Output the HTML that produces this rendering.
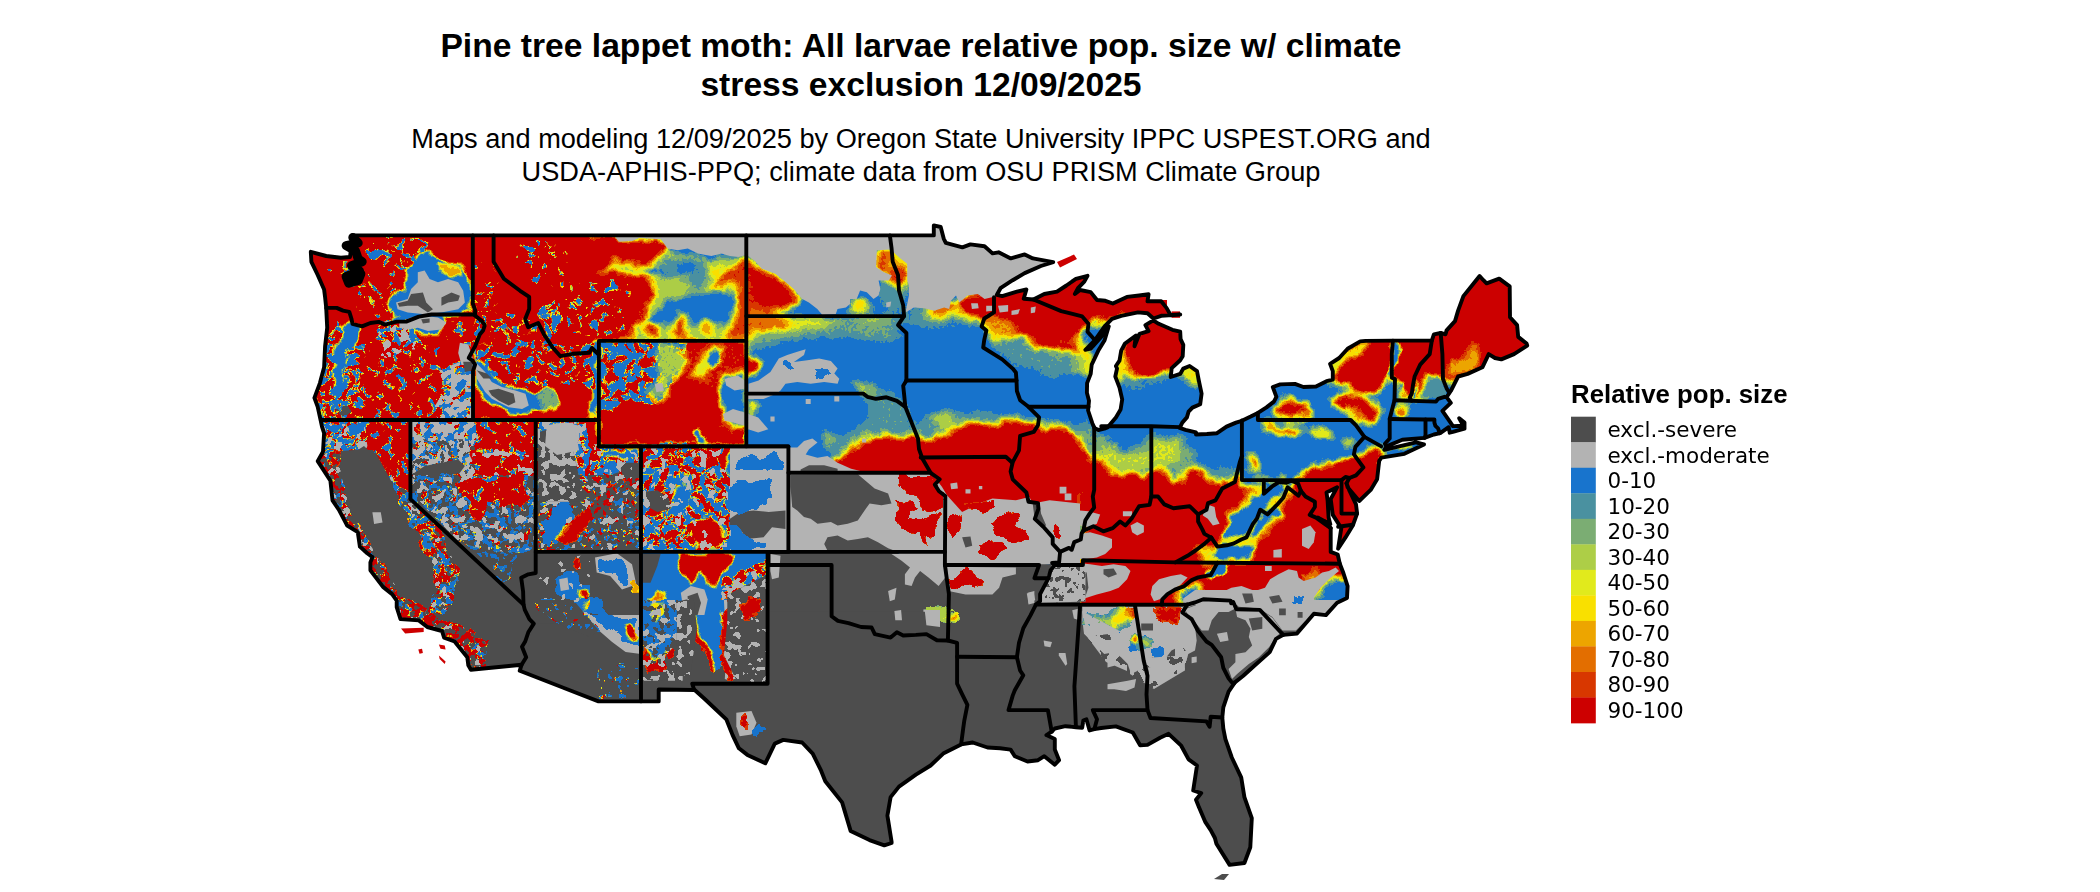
<!DOCTYPE html><html><head><meta charset="utf-8"><title>Pine tree lappet moth</title>
<style>html,body{margin:0;padding:0;background:#fff;overflow:hidden}svg{display:block}text{font-family:"Liberation Sans",sans-serif;fill:#000}.lg text{font-family:"DejaVu Sans",sans-serif;font-size:21.5px}</style></head><body>
<svg width="2100" height="892" viewBox="0 0 2100 892">
<rect width="2100" height="892" fill="#fff"/>
<defs>
<clipPath id="us"><path d="M352.1,235.4 L933.8,235.4 L933.8,225.4 L940.7,227.0 L943.7,238.6 L945.8,242.8 L962.4,247.3 L970.4,244.4 L984.5,246.2 L992.5,253.4 L998.6,252.3 L1010.8,258.4 L1024.7,254.4 L1032.9,258.4 L1053.2,262.1 L1040.9,266.0 L1024.7,273.1 L1012.7,280.2 L1000.5,288.2 L996.9,294.8 L1002.2,296.1 L1016.9,291.6 L1026.4,289.5 L1023.7,298.7 L1033.4,299.5 L1044.3,294.0 L1057.0,291.6 L1066.4,285.5 L1075.9,278.9 L1087.5,275.8 L1084.3,281.6 L1078.0,288.2 L1074.9,294.0 L1080.1,290.0 L1090.7,292.1 L1097.0,300.0 L1105.4,300.8 L1112.8,303.5 L1126.9,296.9 L1139.1,295.5 L1148.6,294.2 L1147.5,301.3 L1161.2,301.3 L1166.5,307.9 L1170.7,315.3 L1180.2,314.5 L1161.2,315.8 L1153.4,318.5 L1147.5,313.2 L1138.0,312.4 L1121.2,315.8 L1112.0,318.9 L1104.6,326.3 L1095.0,340.2 L1085.4,349.8 L1090.7,348.7 L1100.3,338.0 L1108.8,326.3 L1104.6,340.2 L1098.2,350.8 L1091.7,364.6 L1090.7,373.9 L1087.1,383.1 L1086.9,392.8 L1089.0,400.8 L1088.1,410.5 L1092.3,423.2 L1094.4,427.9 L1098.4,430.0 L1104.3,428.7 L1107.5,427.4 L1115.9,417.4 L1120.6,409.5 L1122.2,399.4 L1119.5,387.6 L1115.3,376.5 L1117.0,368.6 L1115.9,366.0 L1119.5,360.7 L1121.2,350.7 L1125.0,343.5 L1135.9,335.6 L1134.5,346.2 L1139.5,333.8 L1148.6,331.1 L1145.4,325.1 L1153.2,320.3 L1158.7,323.8 L1172.4,329.8 L1180.2,331.7 L1180.6,339.1 L1183.3,344.9 L1182.7,356.2 L1180.2,360.2 L1171.7,368.1 L1170.7,377.0 L1180.2,373.9 L1183.3,368.6 L1189.6,366.0 L1197.0,371.2 L1199.1,381.8 L1201.6,393.6 L1200.2,404.2 L1192.4,407.6 L1188.6,411.6 L1186.9,417.4 L1182.3,422.6 L1179.7,427.9 L1185.4,429.8 L1196.0,432.4 L1196.0,434.5 L1206.9,434.0 L1217.0,433.2 L1226.5,426.6 L1236.0,422.6 L1241.9,420.8 L1250.7,416.6 L1257.9,412.9 L1266.5,407.4 L1273.9,401.6 L1276.4,396.8 L1272.8,387.0 L1280.2,384.4 L1294.9,383.9 L1303.4,387.0 L1316.0,386.5 L1326.5,381.2 L1332.8,379.7 L1332.8,371.2 L1330.1,363.8 L1339.2,358.0 L1347.6,348.8 L1360.2,341.4 L1365.5,340.9 L1392.9,340.6 L1431.8,340.6 L1433.9,334.3 L1440.7,333.0 L1445.5,334.3 L1446.6,330.4 L1455.0,321.1 L1458.1,310.6 L1463.4,296.1 L1479.6,276.0 L1483.4,280.2 L1486.6,283.4 L1499.2,278.7 L1509.7,286.3 L1510.0,317.2 L1517.1,325.1 L1518.2,336.9 L1526.6,343.5 L1527.2,345.6 L1514.0,354.1 L1501.3,359.4 L1495.0,358.0 L1488.7,354.1 L1482.4,367.3 L1467.6,373.9 L1458.1,376.5 L1450.8,391.0 L1446.6,397.1 L1450.8,402.9 L1442.4,410.8 L1449.7,421.3 L1452.9,426.1 L1463.4,425.8 L1459.2,418.2 L1464.5,422.6 L1464.5,428.7 L1452.9,431.9 L1449.7,432.7 L1448.7,427.1 L1440.2,433.2 L1433.9,434.5 L1424.5,437.9 L1402.3,439.8 L1386.5,446.4 L1384.4,449.8 L1416.0,442.4 L1424.0,444.5 L1404.4,453.8 L1381.3,457.7 L1379.2,460.9 L1377.1,479.3 L1370.7,489.9 L1359.2,501.0 L1347.6,487.3 L1346.5,483.3 L1349.7,491.2 L1356.0,504.4 L1357.1,513.6 L1352.8,525.5 L1345.5,537.4 L1338.1,548.7 L1341.3,528.1 L1332.8,514.9 L1330.7,499.1 L1337.1,487.3 L1326.5,492.5 L1327.6,500.4 L1328.6,517.6 L1330.3,524.2 L1318.1,517.6 L1330.7,528.1 L1330.7,536.0 L1330.7,551.9 L1337.7,554.5 L1339.8,563.7 L1343.4,573.0 L1347.6,586.1 L1347.0,598.0 L1337.1,602.8 L1325.9,615.1 L1313.9,613.8 L1297.0,633.6 L1283.3,634.9 L1276.0,638.9 L1269.7,652.1 L1254.9,665.3 L1243.3,675.8 L1234.9,682.4 L1228.6,691.6 L1223.3,707.4 L1222.3,717.5 L1223.3,728.5 L1225.4,739.1 L1231.8,757.5 L1241.2,777.3 L1244.4,797.1 L1251.8,818.2 L1250.3,847.2 L1244.4,863.0 L1229.6,864.9 L1216.4,843.8 L1214.9,838.0 L1210.7,830.1 L1205.4,822.2 L1199.1,807.6 L1196.0,799.7 L1201.2,793.1 L1193.2,790.5 L1197.0,765.5 L1188.6,759.4 L1181.2,745.7 L1168.6,733.8 L1160.1,737.8 L1147.5,744.9 L1140.1,745.2 L1132.8,732.5 L1115.9,726.4 L1101.2,728.0 L1094.4,729.1 L1089.6,730.4 L1086.4,719.3 L1083.3,720.6 L1082.2,727.7 L1075.9,727.2 L1065.4,726.2 L1054.8,728.5 L1051.7,731.7 L1046.4,735.1 L1054.8,739.1 L1054.8,749.6 L1059.1,760.2 L1054.8,764.7 L1044.3,756.2 L1038.0,760.2 L1027.5,761.5 L1014.8,756.2 L1010.6,749.6 L1000.1,748.3 L987.5,747.5 L972.7,742.5 L961.1,744.4 L943.2,753.6 L930.6,765.5 L915.9,774.7 L899.0,786.6 L890.6,797.1 L887.4,815.6 L891.6,841.9 L891.6,843.0 L884.3,845.4 L869.5,840.1 L850.6,830.9 L842.1,802.4 L825.3,781.3 L821.1,770.7 L812.7,753.6 L802.1,742.5 L783.2,739.9 L774.8,743.6 L765.3,763.3 L747.4,754.9 L738.9,748.3 L732.6,735.1 L726.3,719.3 L705.3,699.5 L694.7,690.0 L658.7,689.5 L658.7,701.4 L598.5,701.4 L519.7,670.8 L521.6,664.7 L470.9,669.7 L468.3,665.3 L467.3,657.3 L454.6,641.5 L444.1,637.6 L442.0,631.0 L427.3,627.0 L418.8,620.4 L400.5,619.1 L396.7,607.2 L396.7,600.6 L392.1,594.1 L383.0,586.9 L370.4,570.3 L370.4,562.4 L372.5,557.1 L367.2,553.2 L359.9,546.6 L357.8,532.1 L347.2,525.5 L338.8,509.7 L332.5,500.4 L330.4,480.7 L317.7,461.1 L323.0,451.7 L324.1,433.2 L322.0,426.6 L317.7,406.8 L314.4,397.9 L319.9,383.1 L324.1,367.3 L325.1,346.2 L327.2,327.7 L326.2,307.9 L325.1,297.4 L324.1,289.5 L317.7,275.0 L311.4,261.8 L310.8,251.8 L326.2,256.0 L340.9,257.8 L350.0,257.0 L351.4,246.0Z"/></clipPath>
<filter id="bE" filterUnits="userSpaceOnUse" x="280" y="200" width="1280" height="692" color-interpolation-filters="sRGB"><feGaussianBlur stdDeviation="3.60"/></filter>
<filter id="bEE" filterUnits="userSpaceOnUse" x="280" y="200" width="1280" height="692" color-interpolation-filters="sRGB"><feGaussianBlur stdDeviation="6.50"/></filter>
<filter id="bM" filterUnits="userSpaceOnUse" x="280" y="200" width="1280" height="692" color-interpolation-filters="sRGB"><feGaussianBlur stdDeviation="3.20"/></filter>
<filter id="bW" filterUnits="userSpaceOnUse" x="280" y="200" width="1280" height="692" color-interpolation-filters="sRGB"><feGaussianBlur stdDeviation="1.60"/></filter>
<filter id="bX" filterUnits="userSpaceOnUse" x="280" y="200" width="1280" height="692" color-interpolation-filters="sRGB"><feGaussianBlur stdDeviation="0.60"/></filter>
<filter id="bN1" filterUnits="userSpaceOnUse" x="280" y="200" width="1280" height="692" color-interpolation-filters="sRGB"><feTurbulence type="fractalNoise" baseFrequency="0.12" numOctaves="3" seed="7"/><feColorMatrix type="matrix" values="12 0 0 0 -7.9  12 0 0 0 -7.9  12 0 0 0 -7.9  0 0 0 0 1"/><feComposite operator="in" in2="SourceAlpha"/></filter>
<filter id="bN2" filterUnits="userSpaceOnUse" x="280" y="200" width="1280" height="692" color-interpolation-filters="sRGB"><feTurbulence type="fractalNoise" baseFrequency="0.12" numOctaves="3" seed="7"/><feColorMatrix type="matrix" values="12 0 0 0 -7.18  12 0 0 0 -7.18  12 0 0 0 -7.18  0 0 0 0 1"/><feComposite operator="in" in2="SourceAlpha"/></filter>
<filter id="bN3" filterUnits="userSpaceOnUse" x="280" y="200" width="1280" height="692" color-interpolation-filters="sRGB"><feTurbulence type="fractalNoise" baseFrequency="0.12" numOctaves="3" seed="7"/><feColorMatrix type="matrix" values="12 0 0 0 -6.58  12 0 0 0 -6.58  12 0 0 0 -6.58  0 0 0 0 1"/><feComposite operator="in" in2="SourceAlpha"/></filter>
<filter id="bN4" filterUnits="userSpaceOnUse" x="280" y="200" width="1280" height="692" color-interpolation-filters="sRGB"><feTurbulence type="fractalNoise" baseFrequency="0.12" numOctaves="3" seed="7"/><feColorMatrix type="matrix" values="12 0 0 0 -6.04  12 0 0 0 -6.04  12 0 0 0 -6.04  0 0 0 0 1"/><feComposite operator="in" in2="SourceAlpha"/></filter>
<filter id="bN5" filterUnits="userSpaceOnUse" x="280" y="200" width="1280" height="692" color-interpolation-filters="sRGB"><feTurbulence type="fractalNoise" baseFrequency="0.12" numOctaves="3" seed="7"/><feColorMatrix type="matrix" values="12 0 0 0 -5.5  12 0 0 0 -5.5  12 0 0 0 -5.5  0 0 0 0 1"/><feComposite operator="in" in2="SourceAlpha"/></filter>
<filter id="bN6" filterUnits="userSpaceOnUse" x="280" y="200" width="1280" height="692" color-interpolation-filters="sRGB"><feTurbulence type="fractalNoise" baseFrequency="0.12" numOctaves="3" seed="7"/><feColorMatrix type="matrix" values="12 0 0 0 -4.96  12 0 0 0 -4.96  12 0 0 0 -4.96  0 0 0 0 1"/><feComposite operator="in" in2="SourceAlpha"/></filter>
<filter id="bN7" filterUnits="userSpaceOnUse" x="280" y="200" width="1280" height="692" color-interpolation-filters="sRGB"><feTurbulence type="fractalNoise" baseFrequency="0.12" numOctaves="3" seed="7"/><feColorMatrix type="matrix" values="12 0 0 0 -4.42  12 0 0 0 -4.42  12 0 0 0 -4.42  0 0 0 0 1"/><feComposite operator="in" in2="SourceAlpha"/></filter>
<filter id="bN8" filterUnits="userSpaceOnUse" x="280" y="200" width="1280" height="692" color-interpolation-filters="sRGB"><feTurbulence type="fractalNoise" baseFrequency="0.12" numOctaves="3" seed="7"/><feColorMatrix type="matrix" values="12 0 0 0 -3.82  12 0 0 0 -3.82  12 0 0 0 -3.82  0 0 0 0 1"/><feComposite operator="in" in2="SourceAlpha"/></filter>
<filter id="bN9" filterUnits="userSpaceOnUse" x="280" y="200" width="1280" height="692" color-interpolation-filters="sRGB"><feTurbulence type="fractalNoise" baseFrequency="0.12" numOctaves="3" seed="7"/><feColorMatrix type="matrix" values="12 0 0 0 -3.1  12 0 0 0 -3.1  12 0 0 0 -3.1  0 0 0 0 1"/><feComposite operator="in" in2="SourceAlpha"/></filter>
<filter id="sS1a" filterUnits="userSpaceOnUse" x="280" y="200" width="1280" height="692" color-interpolation-filters="sRGB"><feTurbulence type="fractalNoise" baseFrequency="0.12" numOctaves="2" seed="11"/><feColorMatrix type="matrix" values="0 0 0 0 0  0 0 0 0 0  0 0 0 0 0  0 12 0 0 -7.9"/><feComponentTransfer><feFuncA type="discrete" tableValues="0 1"/></feComponentTransfer><feComposite operator="in" in="SourceGraphic"/></filter>
<filter id="sS1b" filterUnits="userSpaceOnUse" x="280" y="200" width="1280" height="692" color-interpolation-filters="sRGB"><feTurbulence type="fractalNoise" baseFrequency="0.17" numOctaves="2" seed="23"/><feColorMatrix type="matrix" values="0 0 0 0 0  0 0 0 0 0  0 0 0 0 0  0 12 0 0 -7.9"/><feComponentTransfer><feFuncA type="discrete" tableValues="0 1"/></feComponentTransfer><feComposite operator="in" in="SourceGraphic"/></filter>
<filter id="sS2a" filterUnits="userSpaceOnUse" x="280" y="200" width="1280" height="692" color-interpolation-filters="sRGB"><feTurbulence type="fractalNoise" baseFrequency="0.12" numOctaves="2" seed="11"/><feColorMatrix type="matrix" values="0 0 0 0 0  0 0 0 0 0  0 0 0 0 0  0 12 0 0 -7.18"/><feComponentTransfer><feFuncA type="discrete" tableValues="0 1"/></feComponentTransfer><feComposite operator="in" in="SourceGraphic"/></filter>
<filter id="sS2b" filterUnits="userSpaceOnUse" x="280" y="200" width="1280" height="692" color-interpolation-filters="sRGB"><feTurbulence type="fractalNoise" baseFrequency="0.17" numOctaves="2" seed="23"/><feColorMatrix type="matrix" values="0 0 0 0 0  0 0 0 0 0  0 0 0 0 0  0 12 0 0 -7.18"/><feComponentTransfer><feFuncA type="discrete" tableValues="0 1"/></feComponentTransfer><feComposite operator="in" in="SourceGraphic"/></filter>
<filter id="sS3a" filterUnits="userSpaceOnUse" x="280" y="200" width="1280" height="692" color-interpolation-filters="sRGB"><feTurbulence type="fractalNoise" baseFrequency="0.12" numOctaves="2" seed="11"/><feColorMatrix type="matrix" values="0 0 0 0 0  0 0 0 0 0  0 0 0 0 0  0 12 0 0 -6.58"/><feComponentTransfer><feFuncA type="discrete" tableValues="0 1"/></feComponentTransfer><feComposite operator="in" in="SourceGraphic"/></filter>
<filter id="sS3b" filterUnits="userSpaceOnUse" x="280" y="200" width="1280" height="692" color-interpolation-filters="sRGB"><feTurbulence type="fractalNoise" baseFrequency="0.17" numOctaves="2" seed="23"/><feColorMatrix type="matrix" values="0 0 0 0 0  0 0 0 0 0  0 0 0 0 0  0 12 0 0 -6.58"/><feComponentTransfer><feFuncA type="discrete" tableValues="0 1"/></feComponentTransfer><feComposite operator="in" in="SourceGraphic"/></filter>
<filter id="sS4a" filterUnits="userSpaceOnUse" x="280" y="200" width="1280" height="692" color-interpolation-filters="sRGB"><feTurbulence type="fractalNoise" baseFrequency="0.12" numOctaves="2" seed="11"/><feColorMatrix type="matrix" values="0 0 0 0 0  0 0 0 0 0  0 0 0 0 0  0 12 0 0 -6.04"/><feComponentTransfer><feFuncA type="discrete" tableValues="0 1"/></feComponentTransfer><feComposite operator="in" in="SourceGraphic"/></filter>
<filter id="sS4b" filterUnits="userSpaceOnUse" x="280" y="200" width="1280" height="692" color-interpolation-filters="sRGB"><feTurbulence type="fractalNoise" baseFrequency="0.17" numOctaves="2" seed="23"/><feColorMatrix type="matrix" values="0 0 0 0 0  0 0 0 0 0  0 0 0 0 0  0 12 0 0 -6.04"/><feComponentTransfer><feFuncA type="discrete" tableValues="0 1"/></feComponentTransfer><feComposite operator="in" in="SourceGraphic"/></filter>
<filter id="sS5a" filterUnits="userSpaceOnUse" x="280" y="200" width="1280" height="692" color-interpolation-filters="sRGB"><feTurbulence type="fractalNoise" baseFrequency="0.12" numOctaves="2" seed="11"/><feColorMatrix type="matrix" values="0 0 0 0 0  0 0 0 0 0  0 0 0 0 0  0 12 0 0 -5.5"/><feComponentTransfer><feFuncA type="discrete" tableValues="0 1"/></feComponentTransfer><feComposite operator="in" in="SourceGraphic"/></filter>
<filter id="sS5b" filterUnits="userSpaceOnUse" x="280" y="200" width="1280" height="692" color-interpolation-filters="sRGB"><feTurbulence type="fractalNoise" baseFrequency="0.17" numOctaves="2" seed="23"/><feColorMatrix type="matrix" values="0 0 0 0 0  0 0 0 0 0  0 0 0 0 0  0 12 0 0 -5.5"/><feComponentTransfer><feFuncA type="discrete" tableValues="0 1"/></feComponentTransfer><feComposite operator="in" in="SourceGraphic"/></filter>
<filter id="sS6a" filterUnits="userSpaceOnUse" x="280" y="200" width="1280" height="692" color-interpolation-filters="sRGB"><feTurbulence type="fractalNoise" baseFrequency="0.12" numOctaves="2" seed="11"/><feColorMatrix type="matrix" values="0 0 0 0 0  0 0 0 0 0  0 0 0 0 0  0 12 0 0 -4.96"/><feComponentTransfer><feFuncA type="discrete" tableValues="0 1"/></feComponentTransfer><feComposite operator="in" in="SourceGraphic"/></filter>
<filter id="sS6b" filterUnits="userSpaceOnUse" x="280" y="200" width="1280" height="692" color-interpolation-filters="sRGB"><feTurbulence type="fractalNoise" baseFrequency="0.17" numOctaves="2" seed="23"/><feColorMatrix type="matrix" values="0 0 0 0 0  0 0 0 0 0  0 0 0 0 0  0 12 0 0 -4.96"/><feComponentTransfer><feFuncA type="discrete" tableValues="0 1"/></feComponentTransfer><feComposite operator="in" in="SourceGraphic"/></filter>
<filter id="sS7a" filterUnits="userSpaceOnUse" x="280" y="200" width="1280" height="692" color-interpolation-filters="sRGB"><feTurbulence type="fractalNoise" baseFrequency="0.12" numOctaves="2" seed="11"/><feColorMatrix type="matrix" values="0 0 0 0 0  0 0 0 0 0  0 0 0 0 0  0 12 0 0 -4.42"/><feComponentTransfer><feFuncA type="discrete" tableValues="0 1"/></feComponentTransfer><feComposite operator="in" in="SourceGraphic"/></filter>
<filter id="sS7b" filterUnits="userSpaceOnUse" x="280" y="200" width="1280" height="692" color-interpolation-filters="sRGB"><feTurbulence type="fractalNoise" baseFrequency="0.17" numOctaves="2" seed="23"/><feColorMatrix type="matrix" values="0 0 0 0 0  0 0 0 0 0  0 0 0 0 0  0 12 0 0 -4.42"/><feComponentTransfer><feFuncA type="discrete" tableValues="0 1"/></feComponentTransfer><feComposite operator="in" in="SourceGraphic"/></filter>
<filter id="sS8a" filterUnits="userSpaceOnUse" x="280" y="200" width="1280" height="692" color-interpolation-filters="sRGB"><feTurbulence type="fractalNoise" baseFrequency="0.12" numOctaves="2" seed="11"/><feColorMatrix type="matrix" values="0 0 0 0 0  0 0 0 0 0  0 0 0 0 0  0 12 0 0 -3.82"/><feComponentTransfer><feFuncA type="discrete" tableValues="0 1"/></feComponentTransfer><feComposite operator="in" in="SourceGraphic"/></filter>
<filter id="sS8b" filterUnits="userSpaceOnUse" x="280" y="200" width="1280" height="692" color-interpolation-filters="sRGB"><feTurbulence type="fractalNoise" baseFrequency="0.17" numOctaves="2" seed="23"/><feColorMatrix type="matrix" values="0 0 0 0 0  0 0 0 0 0  0 0 0 0 0  0 12 0 0 -3.82"/><feComponentTransfer><feFuncA type="discrete" tableValues="0 1"/></feComponentTransfer><feComposite operator="in" in="SourceGraphic"/></filter>
<filter id="sS9a" filterUnits="userSpaceOnUse" x="280" y="200" width="1280" height="692" color-interpolation-filters="sRGB"><feTurbulence type="fractalNoise" baseFrequency="0.12" numOctaves="2" seed="11"/><feColorMatrix type="matrix" values="0 0 0 0 0  0 0 0 0 0  0 0 0 0 0  0 12 0 0 -3.1"/><feComponentTransfer><feFuncA type="discrete" tableValues="0 1"/></feComponentTransfer><feComposite operator="in" in="SourceGraphic"/></filter>
<filter id="sS9b" filterUnits="userSpaceOnUse" x="280" y="200" width="1280" height="692" color-interpolation-filters="sRGB"><feTurbulence type="fractalNoise" baseFrequency="0.17" numOctaves="2" seed="23"/><feColorMatrix type="matrix" values="0 0 0 0 0  0 0 0 0 0  0 0 0 0 0  0 12 0 0 -3.1"/><feComponentTransfer><feFuncA type="discrete" tableValues="0 1"/></feComponentTransfer><feComposite operator="in" in="SourceGraphic"/></filter>
<filter id="cz" filterUnits="userSpaceOnUse" x="280" y="200" width="1280" height="692" color-interpolation-filters="sRGB"><feTurbulence type="fractalNoise" baseFrequency="0.05" numOctaves="3" seed="5" result="n"/><feDisplacementMap in="SourceGraphic" in2="n" scale="15" xChannelSelector="R" yChannelSelector="G" result="d"/><feTurbulence type="fractalNoise" baseFrequency="0.35" numOctaves="1" seed="9" result="m0"/><feColorMatrix in="m0" type="matrix" values="1 0 0 0 0  1 0 0 0 0  1 0 0 0 0  0 0 0 0 1" result="m"/><feComposite in="d" in2="m" operator="arithmetic" k1="0" k2="1" k3="0.16" k4="-0.08"/><feComponentTransfer><feFuncR type="discrete" tableValues="0.0941 0.2902 0.4824 0.6784 0.8824 0.9765 0.9294 0.8902 0.8471 0.8039"/><feFuncG type="discrete" tableValues="0.4549 0.5686 0.6784 0.8078 0.9176 0.8784 0.6471 0.4314 0.2157 0.0000"/><feFuncB type="discrete" tableValues="0.8039 0.6275 0.4510 0.2784 0.1098 0.0000 0.0000 0.0000 0.0000 0.0000"/><feFuncA type="discrete" tableValues="0 1"/></feComponentTransfer></filter>
</defs>
<text x="921" y="57.1" text-anchor="middle" font-size="33.63" font-weight="bold">Pine tree lappet moth: All larvae relative pop. size w/ climate</text>
<text x="921" y="96.1" text-anchor="middle" font-size="33.63" font-weight="bold">stress exclusion 12/09/2025</text>
<text x="921" y="148" text-anchor="middle" font-size="27.18">Maps and modeling 12/09/2025 by Oregon State University IPPC USPEST.ORG and</text>
<text x="921" y="180.5" text-anchor="middle" font-size="27.18">USDA-APHIS-PPQ; climate data from OSU PRISM Climate Group</text>
<g clip-path="url(#us)">
<rect x="300" y="215" width="1240" height="677" fill="#4D4D4D"/>
<g filter="url(#cz)">
<rect x="280" y="200" width="1280" height="692" fill="#000"/>
<g filter="url(#bM)">
<polygon fill="#595959" points="660.9,250.2 677.7,252.8 697.9,255.3 711.4,257.8 728.2,257.0 745.0,256.1 745.0,341.0 634.0,341.0 634.0,329.3 644.1,319.2 649.1,300.7 655.0,292.3 651.7,280.5 639.0,272.1 617.2,272.9 603.7,275.5 592.0,276.3 602.0,270.1 615.5,261.2 627.3,261.2 640.7,265.4 651.7,261.2"/>
<polygon fill="#262626" points="667.6,260.3 687.8,258.6 708.0,261.2 709.7,268.7 706.3,275.5 706.3,290.6 694.6,292.3 687.8,282.2 677.7,275.5 667.6,273.8 654.2,273.8 640.7,270.4 642.4,266.2 654.2,265.4"/>
<polygon fill="#050505" points="642.4,267.0 660.9,266.2 666.0,270.4 657.5,273.8 645.8,272.9"/>
<polygon fill="#050505" points="671.0,263.7 687.8,262.8 697.9,267.0 689.5,273.8 676.0,272.1"/>
<polygon fill="#000000" points="664.3,304.0 677.7,299.0 687.8,297.3 704.6,294.8 716.4,289.8 728.2,292.3 731.6,299.0 729.9,309.1 726.5,319.2 721.5,325.9 711.4,320.9 699.6,320.9 692.9,327.6 687.8,319.2 684.5,310.8 676.0,319.2 667.6,325.9 660.9,324.2 654.2,322.5 647.5,320.9 645.8,315.8 654.2,312.5"/>
<polygon fill="#ffffff" points="560.0,235.1 615.5,235.1 618.9,241.8 632.3,241.0 639.0,238.1 660.9,239.3 666.8,246.9 657.5,254.4 651.7,261.2 640.7,265.4 630.6,261.2 618.9,261.2 610.5,265.4 602.0,270.4 596.2,274.6 603.7,274.1 617.2,272.1 627.3,273.4 639.0,271.3 650.8,278.8 655.0,288.9 653.3,295.6 649.1,300.7 645.8,309.1 644.1,319.2 639.0,325.9 634.0,329.3 634.0,341.0 560.0,341.0"/>
<polygon fill="#ffffff" points="645.8,327.6 654.2,325.1 660.9,329.3 659.2,335.2 650.8,336.8 645.8,333.5"/>
<polygon fill="#e6e6e6" points="677.7,319.2 681.9,312.5 686.1,319.2 687.8,341.0 676.0,341.0"/>
<polygon fill="#bfbfbf" points="701.3,325.9 708.0,322.5 714.7,325.9 713.1,333.5 704.6,334.3"/>
<polygon fill="#b2b2b2" points="711.4,265.4 719.8,263.7 721.5,270.4 714.7,273.8"/>
<polygon fill="#e0e0e0" points="745.0,256.1 738.3,262.8 726.5,272.1 711.4,283.9 713.1,288.6 728.2,285.5 738.3,280.5 735.8,292.3 736.6,305.7 734.9,319.2 728.2,332.6 721.5,341.0 745.0,341.0 748.4,339.4 758.5,335.2 778.6,328.4 793.8,321.7 783.7,319.2 770.2,315.8 783.7,312.5 797.1,305.7 802.2,299.3 793.8,289.2 783.7,280.8 775.3,274.1 761.8,269.1 755.1,261.2 748.4,256.1"/>
<polygon fill="#ffffff" points="748.4,268.7 761.8,273.8 775.3,280.5 785.4,290.6 793.8,299.0 785.4,305.7 770.2,309.1 758.5,299.0 750.1,292.3"/>
</g>
<g filter="url(#bE)">
<polygon fill="#262626" points="850.0,316.7 905.5,316.7 905.5,325.9 892.0,332.6 900.5,349.5 893.7,346.1 883.6,329.3 866.8,324.2 850.0,325.9"/>
<polygon fill="#262626" points="880.3,285.5 893.7,282.2 907.2,283.9 908.9,295.6 905.5,312.5 880.3,312.5 878.6,299.0"/>
<polygon fill="#999999" points="850.0,300.7 860.1,297.3 868.5,299.0 871.9,305.7 866.8,312.5 850.0,312.5"/>
<polygon fill="#999999" points="881.1,324.2 886.2,318.3 892.9,324.2"/>
<polygon fill="#262626" points="905.5,309.1 924.0,305.7 957.6,309.1 984.6,319.2 984.6,329.3 957.6,325.9 934.1,332.6 905.5,325.9"/>
<polygon fill="#cccccc" points="922.3,308.3 950.9,304.0 957.6,309.1 957.6,316.7 944.2,319.2 930.7,316.7"/>
<polygon fill="#ffffff" points="957.6,297.3 967.7,294.8 977.8,293.1 993.0,292.3 1001.4,288.9 1035.0,258.6 1068.6,250.2 1093.9,250.2 1135.9,275.5 1179.6,292.3 1186.4,319.2 1152.7,319.2 1102.3,319.2 1092.2,325.9 1088.8,330.1 1082.1,336.0 1068.6,342.7 1051.8,346.4 1038.4,346.1 1028.3,341.0 1019.9,334.3 1011.5,325.9 1006.4,319.2 998.0,319.2 993.0,315.8 984.6,319.2 974.5,319.2 964.4,315.8 957.6,309.1"/>
<polygon fill="#b2b2b2" points="981.2,315.8 1011.5,319.2 1018.2,332.6 1011.5,342.7 1001.4,346.1 991.3,342.7 984.6,332.6"/>
<polygon fill="#ffffff" points="1125.8,342.7 1135.9,332.6 1152.7,319.2 1184.7,319.2 1200.0,332.6 1200.0,375.0 1179.6,375.0 1176.3,369.6 1161.1,373.0 1135.9,375.0 1129.2,359.6"/>
</g>
<g filter="url(#bM)">
<polygon fill="#e6e6e6" points="876.9,250.2 890.4,249.4 900.5,258.6 907.2,263.7 907.2,280.5 908.9,285.5 900.5,288.9 888.7,282.2 880.3,282.2 890.4,273.8 883.6,272.1 876.1,267.0"/>
<polygon fill="#8c8c8c" points="883.6,258.6 892.0,257.8 903.8,263.7 903.8,268.7 895.4,267.0 885.3,264.5"/>
</g>
<g filter="url(#bE)">
<polygon fill="#333333" points="747.5,315.9 895.5,315.9 898.8,342.8 861.8,339.5 828.2,336.1 794.6,341.1 760.9,346.2 747.5,347.9"/>
<polygon fill="#737373" points="747.5,317.6 794.6,317.6 828.2,316.6 841.7,319.9 828.2,324.7 794.6,329.4 760.9,334.1 747.5,336.1"/>
<polygon fill="#616161" points="858.5,317.6 882.0,316.6 883.7,323.3 861.8,325.3"/>
<polygon fill="#cccccc" points="747.5,317.6 787.8,317.6 794.6,326.0 767.7,331.0 747.5,333.4"/>
<polygon fill="#2b2b2b" points="847.7,382.0 864.6,380.4 881.4,385.4 898.2,395.5 908.3,403.9 911.6,430.8 898.2,434.2 881.4,430.8 864.6,435.9 854.5,444.3 844.4,454.4 830.9,457.7 824.2,447.6 820.8,434.2 830.9,430.8 847.7,434.2 867.9,420.7 869.6,403.9 857.8,390.5"/>
<polygon fill="#5c5c5c" points="852.8,384.6 864.6,382.9 873.0,388.8 871.3,395.5 861.2,393.8"/>
<polygon fill="#5c5c5c" points="822.5,434.2 829.2,431.7 834.3,437.5 830.9,443.4 824.2,442.6"/>
<polygon fill="#2b2b2b" points="911.6,427.5 928.5,412.3 948.6,407.3 968.8,410.6 982.3,405.6 999.1,410.6 1015.9,414.0 1037.8,414.0 1049.6,419.0 1080.0,420.7 1080.0,434.2 911.6,435.9"/>
<polygon fill="#616161" points="931.8,414.0 945.3,411.5 955.4,417.4 953.7,427.5 940.2,429.1 933.5,422.4"/>
<polygon fill="#ffffff" points="830.9,460.3 844.4,456.0 852.8,447.6 861.2,439.6 873.0,436.2 884.7,434.2 898.2,437.9 908.3,434.2 918.4,435.0 925.1,440.9 931.8,439.6 938.6,434.5 948.6,429.5 958.7,427.5 968.8,420.7 978.9,424.4 989.0,427.5 999.1,422.7 1007.5,419.4 1019.3,421.1 1029.4,424.1 1037.8,423.3 1049.6,430.8 1059.6,428.3 1080.0,434.2 1116.8,447.6 1116.8,490.0 830.9,490.0"/>
</g>
<g filter="url(#bM)">
<polygon fill="#ffffff" points="730.0,343.4 745.1,343.4 746.8,356.0 755.2,356.8 761.1,365.2 759.4,373.6 751.9,377.8 745.1,376.2 740.1,373.6 730.0,372.0"/>
</g>
<g filter="url(#bE)">
<polygon fill="#2b2b2b" points="982.3,340.0 1080.0,340.0 1080.0,373.6 1049.6,378.7 1032.7,368.6 1015.9,365.2 999.1,353.5"/>
<polygon fill="#ffffff" points="1022.6,340.0 1080.0,340.0 1080.0,351.8 1058.0,353.5 1041.1,348.4"/>
<polygon fill="#333333" points="1080.0,419.0 1095.1,427.5 1103.5,440.9 1123.7,447.6 1143.9,440.9 1154.0,434.2 1174.2,431.7 1187.6,437.5 1192.7,451.0 1197.7,464.5 1214.6,469.5 1236.4,464.5 1241.5,474.6 1080.0,474.6"/>
<polygon fill="#666666" points="1095.1,447.6 1113.6,451.0 1133.8,454.4 1147.3,451.0 1154.0,440.9 1167.5,437.5 1180.9,440.9 1184.3,451.0 1177.5,464.5 1164.1,467.8 1152.3,464.5 1130.5,467.8 1095.1,464.5"/>
<polygon fill="#ffffff" points="1080.0,449.3 1095.1,457.7 1103.5,465.3 1113.6,472.9 1123.7,472.9 1133.8,472.9 1143.9,475.4 1152.3,472.0 1160.7,468.7 1167.5,474.6 1174.2,483.0 1184.3,473.7 1194.4,470.3 1204.5,474.6 1214.6,479.6 1224.6,483.0 1236.4,474.6 1241.5,472.9 1241.5,525.0 1080.0,525.0"/>
<polygon fill="#333333" points="1118.7,360.2 1127.1,377.0 1140.5,383.7 1154.0,380.4 1167.5,373.6 1180.9,365.2 1197.7,365.2 1197.7,385.4 1187.6,383.7 1180.9,373.6 1174.2,377.0 1164.1,382.0 1152.3,387.1 1137.2,388.8 1123.7,383.7 1117.0,373.6"/>
<polygon fill="#ffffff" points="1122.0,340.0 1122.0,361.9 1130.5,372.0 1140.5,376.2 1150.6,373.6 1159.0,368.6 1170.8,363.5 1180.9,356.8 1184.3,350.1 1187.6,340.0"/>
<polygon fill="#8c8c8c" points="1184.3,370.3 1194.4,368.6 1197.7,377.0 1194.4,383.7 1186.0,382.0"/>
<polygon fill="#8c8c8c" points="1113.6,356.8 1123.7,358.5 1125.4,373.6 1120.4,383.7 1113.6,382.0"/>
<polygon fill="#8c8c8c" points="1080.0,346.7 1090.1,345.0 1091.8,360.2 1086.7,373.6 1080.0,373.6"/>
</g>
<g filter="url(#bM)">
<polygon fill="#e6e6e6" points="1261.6,424.1 1270.1,422.4 1276.8,427.5 1286.9,424.1 1297.0,425.8 1303.7,430.8 1297.0,434.2 1285.2,432.5 1276.8,434.2 1266.7,430.8"/>
<polygon fill="#b2b2b2" points="1307.1,427.5 1318.8,429.1 1332.3,432.5 1335.6,437.5 1325.6,437.5 1312.1,434.2"/>
<polygon fill="#d9d9d9" points="1246.5,456.0 1254.9,457.7 1260.0,466.1 1258.3,472.9 1251.6,471.2 1246.5,462.8"/>
<polygon fill="#999999" points="1342.4,439.2 1350.8,435.9 1352.5,442.6 1345.7,446.0"/>
<polygon fill="#ffffff" points="1295.3,490.0 1295.3,479.6 1305.4,471.2 1318.8,465.3 1332.3,461.4 1345.7,459.8 1355.8,456.0 1365.9,449.3 1376.0,447.6 1382.7,451.0 1382.7,490.0"/>
<polygon fill="#666666" points="1330.6,343.4 1342.4,340.0 1352.5,340.0 1349.1,350.1 1344.1,360.2 1337.3,370.3 1328.9,365.2"/>
<polygon fill="#ffffff" points="1342.4,340.0 1391.1,340.0 1391.1,365.2 1387.8,373.6 1381.1,387.1 1372.6,392.1 1362.6,390.5 1349.1,383.7 1339.0,378.7 1337.3,370.3 1344.1,360.2 1349.1,350.1"/>
<polygon fill="#f2f2f2" points="1328.9,400.5 1339.0,393.8 1352.5,392.1 1365.9,395.5 1376.0,402.2 1381.1,410.6 1376.0,420.7 1365.9,424.1 1355.8,419.0 1349.1,410.6 1339.0,410.6 1332.3,407.3"/>
<polygon fill="#f2f2f2" points="1273.4,410.6 1281.8,400.5 1291.9,397.2 1297.0,403.9 1305.4,403.9 1312.1,410.6 1305.4,417.4 1290.2,419.0 1278.5,417.4"/>
<polygon fill="#ffffff" points="1392.8,340.0 1430.0,340.0 1430.0,398.9 1414.7,398.9 1409.6,397.2 1399.6,398.0 1396.2,390.5 1394.5,373.6"/>
</g>
<g filter="url(#bW)">
<polygon fill="#000000" points="1394.8,345.0 1399.6,343.4 1401.2,365.2 1399.6,390.5 1396.2,395.5 1394.8,373.6"/>
<polygon fill="#000000" points="1419.7,356.8 1423.1,358.5 1416.4,382.0 1414.7,397.2 1409.6,397.2 1413.0,380.4"/>
</g>
<g filter="url(#bM)">
<polygon fill="#ebebeb" points="1395.4,403.9 1404.6,402.2 1407.1,410.6 1402.9,415.7 1396.2,414.8"/>
</g>
<g filter="url(#bW)">
<polygon fill="#a6a6a6" points="1387.8,451.0 1399.6,449.3 1409.6,447.6 1409.6,450.2 1389.5,454.4"/>
</g>
<g filter="url(#bE)">
<polygon fill="#ffffff" points="1080.0,488.5 1295.3,488.5 1298.6,480.1 1430.0,480.1 1430.0,620.0 1080.0,620.0"/>
</g>
<g filter="url(#bM)">
<polygon fill="#808080" points="1258.3,476.7 1286.9,478.4 1291.9,488.5 1281.8,503.6 1273.4,513.7 1281.8,512.0 1280.1,520.5 1265.0,533.9 1254.9,542.3 1253.2,550.7 1244.8,564.2 1228.0,567.5 1214.6,564.2 1197.7,557.5 1196.0,552.4 1207.8,545.7 1219.6,544.0 1223.0,533.9 1226.3,523.8 1233.1,513.7 1241.5,505.3 1248.2,496.9 1254.9,488.5"/>
</g>
<g filter="url(#bW)">
<polygon fill="#000000" points="1262.5,480.1 1278.5,481.8 1285.2,488.5 1280.1,496.9 1270.1,503.6 1261.6,513.7 1254.9,520.5 1248.2,527.2 1241.5,533.9 1231.4,540.6 1224.6,537.3 1228.0,528.9 1234.7,518.8 1241.5,510.4 1249.9,503.6 1258.3,495.2 1262.5,488.5"/>
<polygon fill="#000000" points="1265.0,512.0 1275.1,508.7 1278.5,513.7 1268.4,523.8 1258.3,533.9 1251.6,537.3 1248.2,533.9 1256.6,523.8"/>
<polygon fill="#000000" points="1214.6,549.0 1224.6,545.7 1241.5,547.4 1251.6,549.0 1246.5,557.5 1231.4,560.8 1217.9,559.1 1211.2,554.1"/>
<polygon fill="#000000" points="1211.2,565.9 1219.6,564.2 1231.4,565.9 1224.6,572.6 1214.6,576.0 1207.8,572.6"/>
</g>
<g filter="url(#bM)">
<polygon fill="#808080" points="1174.2,594.5 1184.3,587.7 1197.7,582.7 1204.5,586.0 1197.7,596.1 1187.6,602.9 1174.2,602.9"/>
</g>
<g filter="url(#bW)">
<polygon fill="#0d0d0d" points="1179.2,594.5 1189.3,588.6 1196.0,589.4 1189.3,597.8 1180.9,600.3"/>
</g>
<g filter="url(#bM)">
<polygon fill="#000000" points="1312.1,601.2 1322.2,587.7 1335.6,579.3 1342.4,577.6 1352.5,587.7 1349.1,602.9 1332.3,614.6 1315.5,616.3"/>
<polygon fill="#999999" points="1303.7,572.6 1315.5,569.2 1320.5,574.3 1312.1,579.3 1305.4,578.5"/>
</g>
<g filter="url(#bE)">
<polygon fill="#ffffff" points="923.4,470.0 1080.0,470.0 1080.0,523.8 923.4,523.8"/>
</g>
<g filter="url(#bM)">
<polygon fill="#ffffff" points="1333.7,266.8 1542.3,266.8 1542.3,381.2 1458.2,381.2 1448.1,384.6 1441.4,377.8 1431.3,376.1 1421.2,384.6 1397.6,384.6 1394.3,374.5 1390.9,377.8 1384.2,381.2 1377.5,389.6 1360.6,391.3 1337.1,384.6 1330.4,381.2 1330.4,374.5"/>
<polygon fill="#666666" points="1330.4,364.4 1340.5,354.3 1357.3,344.2 1370.7,342.5 1364.0,350.9 1350.5,357.6 1340.5,367.7 1335.4,377.8 1330.4,374.5"/>
</g>
<g filter="url(#bW)">
<polygon fill="#000000" points="1390.9,342.5 1399.3,342.5 1397.6,359.3 1394.3,374.5 1390.9,377.8 1389.2,367.7"/>
</g>
<g filter="url(#bM)">
<polygon fill="#9e9e9e" points="1458.2,361.0 1468.3,350.9 1478.4,345.9 1483.4,350.9 1478.4,361.0 1468.3,367.7 1458.2,374.5 1449.8,377.8 1446.4,371.1"/>
<polygon fill="#262626" points="1421.2,384.6 1431.3,376.1 1441.4,377.8 1448.1,384.6 1451.5,394.6 1448.1,400.0 1417.8,400.0"/>
</g>
<g filter="url(#bW)">
<polygon fill="#ffffff" points="300.0,225.0 590.0,225.0 590.0,445.0 300.0,445.0"/>
</g>
<g filter="url(#bN7)">
<polygon fill="#ffffff" points="367.4,238.5 424.6,238.5 427.9,257.0 407.7,270.5 390.9,265.5 377.5,270.5 369.0,257.0"/>
</g>
<g filter="url(#bN8)">
<polygon fill="#ffffff" points="328.7,258.7 347.2,258.7 347.2,272.2 328.7,272.2"/>
<polygon fill="#ffffff" points="353.9,278.9 394.3,270.5 397.6,309.2 380.8,319.3 353.9,309.2"/>
</g>
<g filter="url(#bW)">
<polygon fill="#000000" points="407.7,265.5 417.8,255.4 424.6,248.6 431.3,257.0 441.4,260.4 451.5,263.8 464.9,265.5 468.3,272.2 471.6,285.6 472.5,299.1 468.3,309.2 458.2,314.2 441.4,315.9 424.6,317.6 411.1,315.9 397.6,314.2 390.9,305.8 394.3,295.7 404.4,289.0 407.7,278.9"/>
<polygon fill="#a6a6a6" points="438.0,265.5 451.5,265.5 464.9,268.8 463.2,275.5 448.1,273.9 438.0,272.2"/>
<polygon fill="#000000" points="394.3,315.9 407.7,314.2 441.4,315.9 448.1,322.6 441.4,332.7 424.6,332.7 407.7,332.7 397.6,329.4"/>
<polygon fill="#000000" points="340.5,326.0 348.9,322.6 357.3,326.0 360.6,332.7 353.9,342.8 350.5,352.9 347.2,365.0 337.1,365.0 338.8,349.6 340.5,336.1"/>
</g>
<g filter="url(#bN7)">
<polygon fill="#ffffff" points="323.6,315.9 340.5,315.9 338.8,365.0 323.6,365.0"/>
</g>
<g filter="url(#bN5)">
<polygon fill="#ffffff" points="380.8,322.6 394.3,319.3 407.7,322.6 411.1,332.7 424.6,342.8 417.8,349.6 404.4,349.6 390.9,359.6 380.8,356.3 377.5,339.5"/>
</g>
<g filter="url(#bN8)">
<polygon fill="#ffffff" points="473.3,265.5 498.6,265.5 498.6,322.6 473.3,322.6"/>
</g>
<g filter="url(#bN7)">
<polygon fill="#ffffff" points="475.0,309.2 498.6,309.2 525.5,315.9 545.6,326.0 559.1,349.6 552.4,365.0 475.0,365.0"/>
</g>
<g filter="url(#bW)">
<polygon fill="#000000" points="471.6,347.9 485.1,344.5 488.5,354.6 483.4,365.0 475.0,365.0"/>
</g>
<g filter="url(#bN8)">
<polygon fill="#ffffff" points="518.7,236.9 565.8,236.9 565.8,285.6 538.9,285.6 518.7,265.5"/>
</g>
<g filter="url(#bN5)">
<polygon fill="#ffffff" points="538.9,309.2 552.4,302.5 562.5,309.2 562.5,326.0 552.4,336.1 542.3,332.7"/>
</g>
<g filter="url(#bN8)">
<polygon fill="#ffffff" points="565.8,282.3 626.4,282.3 626.4,332.7 565.8,332.7"/>
<polygon fill="#ffffff" points="448.1,322.6 473.3,322.6 473.3,349.6 448.1,349.6"/>
</g>
<g filter="url(#bW)">
<polygon fill="#ffffff" points="315.2,417.3 597.8,417.3 597.8,445.9 640.0,445.9 640.0,495.0 315.2,495.0"/>
</g>
<g filter="url(#bN5)">
<polygon fill="#ffffff" points="322.0,345.0 360.6,345.0 364.0,378.6 360.6,419.0 320.3,419.0 315.2,395.5"/>
</g>
<g filter="url(#bW)">
<polygon fill="#000000" points="335.4,345.0 348.9,345.0 347.2,365.2 343.8,382.0 337.1,395.5 332.0,392.1 333.7,370.2"/>
</g>
<g filter="url(#bN3)">
<polygon fill="#ffffff" points="439.7,370.2 451.5,365.2 464.9,360.1 472.5,361.8 472.5,419.0 438.0,419.0 433.0,408.9 441.4,395.5 448.1,385.4 441.4,378.6"/>
</g>
<g filter="url(#bN8)">
<polygon fill="#ffffff" points="360.6,345.0 438.0,345.0 438.0,419.0 360.6,419.0"/>
</g>
<g filter="url(#bN7)">
<polygon fill="#ffffff" points="475.0,345.0 592.7,345.0 592.7,387.0 475.0,387.0"/>
</g>
<g filter="url(#bW)">
<polygon fill="#000000" points="475.0,358.5 488.5,368.5 501.9,383.7 525.5,390.4 535.6,392.1 542.3,388.7 552.4,395.5 559.1,400.5 552.4,408.9 538.9,412.3 525.5,412.3 508.6,412.3 495.2,407.2 483.4,398.8 475.0,387.0"/>
<polygon fill="#383838" points="537.2,393.8 545.6,387.0 555.7,393.8 559.1,402.2 549.0,410.6 538.9,408.9"/>
</g>
<g filter="url(#bN4)">
<polygon fill="#ffffff" points="322.0,420.7 364.0,420.7 367.4,445.9 360.6,462.7 357.3,495.0 323.6,495.0"/>
</g>
<g filter="url(#bN8)">
<polygon fill="#ffffff" points="364.0,420.7 407.7,420.7 407.7,495.0 387.5,495.0 374.1,462.7 367.4,445.9"/>
</g>
<g filter="url(#bN3)">
<polygon fill="#ffffff" points="411.1,420.7 475.0,420.7 478.4,439.2 468.3,452.6 475.0,466.1 468.3,495.0 411.1,495.0"/>
</g>
<g filter="url(#bN8)">
<polygon fill="#ffffff" points="473.3,420.7 533.9,420.7 533.9,495.0 468.3,495.0 475.0,466.1 468.3,452.6 478.4,439.2"/>
</g>
<g filter="url(#bN3)">
<polygon fill="#ffffff" points="537.2,420.7 586.0,420.7 586.0,495.0 537.2,495.0"/>
</g>
<g filter="url(#bW)">
<polygon fill="#000000" points="599.5,447.6 640.0,447.6 640.0,459.4 609.6,461.0 599.5,456.0"/>
<polygon fill="#ffffff" points="599.3,340.9 745.6,340.9 745.6,444.3 599.3,444.3"/>
</g>
<g filter="url(#bN4)">
<polygon fill="#ffffff" points="600.1,341.7 684.2,341.7 684.2,358.5 674.1,377.0 669.0,390.5 657.3,402.3 645.5,405.6 632.0,398.9 615.2,407.3 600.1,414.0"/>
</g>
<g filter="url(#bM)">
<polygon fill="#525252" points="655.6,348.5 664.0,343.4 677.5,345.1 684.2,358.5 680.8,372.0 674.1,382.1 664.0,385.5 657.3,377.0 655.6,361.9"/>
<polygon fill="#404040" points="647.2,385.5 657.3,382.1 667.4,385.5 669.0,393.9 660.6,400.6 648.9,398.9"/>
<polygon fill="#ebebeb" points="684.2,341.7 745.6,341.7 745.6,390.5 724.6,390.5 707.7,385.5 694.3,385.5 684.2,377.0"/>
<polygon fill="#525252" points="694.3,373.7 699.3,363.6 707.7,353.5 716.1,346.8 721.2,346.8 717.8,355.2 709.4,363.6 704.4,372.0 699.3,378.7"/>
</g>
<g filter="url(#bW)">
<polygon fill="#000000" points="707.7,353.5 717.8,350.1 721.2,358.5 712.8,365.3"/>
</g>
<g filter="url(#bM)">
<polygon fill="#000000" points="724.6,375.4 745.6,368.6 745.6,429.2 734.6,429.2 724.6,419.1 721.2,402.3 717.8,388.8"/>
<polygon fill="#a6a6a6" points="748.1,400.6 756.5,402.3 758.2,409.0 751.5,414.0 748.1,410.7"/>
</g>
<g filter="url(#bW)">
<polygon fill="#000000" points="696.0,431.7 702.7,430.9 704.4,444.3 697.6,444.3"/>
<polygon fill="#ffffff" points="590.0,444.3 729.9,444.3 729.9,485.0 590.0,485.0"/>
</g>
<g filter="url(#bN6)">
<polygon fill="#ffffff" points="590.0,444.3 721.2,444.3 721.2,485.0 590.0,485.0"/>
</g>
<g filter="url(#bW)">
<polygon fill="#000000" points="600.1,449.4 638.8,447.7 638.8,456.1 615.2,457.8 600.1,456.1"/>
</g>
<g filter="url(#bN4)">
<polygon fill="#ffffff" points="590.0,465.0 640.5,465.0 640.5,550.8 590.0,550.8"/>
</g>
<g filter="url(#bN5)">
<polygon fill="#ffffff" points="642.1,465.0 729.9,465.0 729.9,550.8 642.1,550.8"/>
</g>
<g filter="url(#bW)">
<polygon fill="#ffffff" points="694.3,522.2 704.4,518.8 714.5,522.2 721.2,532.3 724.6,545.7 717.8,550.8 697.6,550.8 694.3,539.0"/>
<polygon fill="#000000" points="670.7,485.2 684.2,481.8 694.3,491.9 690.9,508.7 680.8,515.5 670.7,508.7"/>
<polygon fill="#000000" points="642.1,552.5 766.6,552.5 766.6,615.0 642.1,615.0"/>
<polygon fill="#ffffff" points="679.1,554.1 733.0,554.1 729.6,565.9 721.2,576.0 714.5,586.1 707.7,582.7 701.0,572.6 690.9,582.7 684.2,572.6 679.1,565.9"/>
<polygon fill="#b2b2b2" points="648.9,594.5 660.6,592.8 664.0,604.6 657.3,613.0 648.9,608.0"/>
</g>
<g filter="url(#bN6)">
<polygon fill="#ffffff" points="721.2,582.7 766.6,559.2 766.6,615.0 721.2,615.0"/>
</g>
</g>
<g>
<polygon fill="#B3B3B3" points="615.5,231.7 615.5,237.6 618.9,241.8 632.3,241.0 639.0,238.1 660.9,239.3 667.6,248.5 677.7,250.2 687.8,248.5 697.9,253.6 711.4,256.1 721.5,253.6 729.9,256.1 738.3,257.0 745.0,255.3 748.4,256.1 755.1,261.2 761.8,268.7 775.3,273.8 783.7,280.5 793.8,288.9 802.2,299.0 808.9,302.4 817.3,309.1 822.4,315.0 835.8,314.1 837.5,309.1 845.9,307.4 850.0,304.0 850.0,231.7"/>
<polygon fill="#B3B3B3" points="850.0,231.7 850.0,299.0 856.7,299.0 860.1,290.6 866.8,292.3 873.5,299.0 878.6,295.6 880.3,288.9 878.6,280.5 888.7,280.5 892.0,275.5 883.6,272.1 876.1,267.0 876.9,250.2 890.4,249.4 900.5,258.6 907.2,263.7 907.2,280.5 908.9,285.5 908.9,295.6 905.5,312.5 913.9,307.4 924.0,308.3 934.1,310.8 944.2,307.4 949.2,309.1 950.9,300.7 956.0,295.6 959.3,302.4 967.7,295.6 977.8,294.0 984.6,299.0 993.0,297.0 1018.2,281.3 1035.0,270.7 1047.6,264.5 1060.2,258.6 1060.2,225.0 850.0,225.0"/>
<polygon fill="#B3B3B3" points="971.1,303.2 977.8,303.2 978.7,308.3 971.9,309.1"/>
<polygon fill="#B3B3B3" points="986.2,305.7 993.0,305.7 993.0,310.8 986.2,311.6"/>
<polygon fill="#B3B3B3" points="998.0,305.7 1008.1,304.9 1008.1,311.6 999.7,312.5"/>
<polygon fill="#B3B3B3" points="1011.5,310.8 1019.9,309.1 1018.2,314.1 1011.5,315.0"/>
<polygon fill="#B3B3B3" points="1030.8,307.4 1035.8,306.6 1035.0,312.5 1030.8,313.3"/>
<polygon fill="#B3B3B3" points="886.2,302.4 891.2,301.5 890.4,306.6 886.2,307.4"/>
<polygon fill="#B3B3B3" points="748.5,392.1 748.5,383.7 758.6,380.4 770.4,372.0 778.8,358.5 787.2,355.1 797.3,351.8 805.7,349.3 804.0,355.1 793.9,361.9 807.4,360.2 819.1,358.5 830.9,361.0 837.6,368.6 834.3,373.6 839.3,378.7 837.6,383.7 824.2,382.0 810.7,383.7 797.3,382.0 785.5,383.7 780.5,390.5 778.8,392.1"/>
<polygon fill="#B3B3B3" points="789.7,447.6 797.3,447.6 804.0,440.9 812.4,438.4 817.5,442.6 809.0,449.3 805.7,454.4 817.5,457.7 827.5,456.0 837.6,462.8 851.1,468.7 864.6,472.0 891.5,472.9 891.5,474.6 789.7,474.6"/>
<polygon fill="#4D4D4D" points="800.6,469.5 809.0,465.3 824.2,465.3 837.6,468.7 837.6,473.2 800.6,473.2"/>
<polygon fill="#B3B3B3" points="730.0,447.6 788.0,447.6 788.0,490.0 730.0,490.0"/>
<polygon fill="#B3B3B3" points="805.7,398.9 810.7,398.9 810.7,403.9 805.7,403.9"/>
<polygon fill="#B3B3B3" points="834.3,396.3 839.3,396.3 839.3,401.4 834.3,401.4"/>
<polygon fill="#B3B3B3" points="770.4,416.5 774.6,416.5 774.6,421.6 770.4,421.6"/>
<polygon fill="#B3B3B3" points="746.8,394.7 773.7,394.7 763.6,398.9 746.8,398.9"/>
<polygon fill="#B3B3B3" points="862.0,438.4 866.2,438.4 866.2,442.6 862.0,442.6"/>
</g>
<g filter="url(#cz)">
<g filter="url(#bW)">
<polygon fill="#000000" points="740.1,457.7 751.9,454.4 760.3,461.1 773.7,456.0 783.8,461.1 785.5,471.2 773.7,474.6 763.6,467.8 750.2,472.9 738.4,467.8"/>
<polygon fill="#000000" points="730.0,479.6 746.8,481.3 760.3,490.0 730.0,490.0"/>
<polygon fill="#000000" points="810.7,373.6 824.2,370.3 830.9,375.3 820.8,379.5"/>
<polygon fill="#000000" points="780.5,363.5 790.5,361.0 797.3,366.9 785.5,369.4"/>
</g>
</g>
<g>
<polygon fill="#B3B3B3" points="1080.0,563.3 1090.1,564.2 1101.9,565.9 1113.6,564.2 1125.4,565.9 1130.5,570.9 1127.1,579.3 1118.7,587.7 1110.3,591.1 1096.8,594.5 1086.7,597.8 1080.0,599.5"/>
<polygon fill="#B3B3B3" points="1080.0,533.9 1090.1,532.2 1101.9,535.6 1112.0,539.0 1112.0,547.4 1105.2,554.1 1096.8,557.5 1086.7,559.1 1080.0,559.1"/>
<polygon fill="#B3B3B3" points="1080.0,510.4 1088.4,511.2 1100.2,514.6 1096.8,523.8 1088.4,527.2 1080.0,525.5"/>
<polygon fill="#B3B3B3" points="1130.5,525.5 1137.2,522.1 1143.9,525.5 1143.9,532.2 1137.2,535.6 1132.1,532.2"/>
<polygon fill="#B3B3B3" points="1122.9,511.2 1132.1,511.2 1132.1,516.3 1122.9,516.3"/>
<polygon fill="#B3B3B3" points="1204.5,510.4 1209.5,505.3 1214.6,507.0 1216.2,517.1 1219.6,523.8 1212.9,525.5 1207.8,518.8 1202.8,515.4"/>
<polygon fill="#B3B3B3" points="1152.3,586.0 1159.0,579.3 1170.8,576.0 1180.9,574.3 1187.6,577.6 1180.9,584.4 1170.8,591.1 1164.1,597.8 1154.0,601.2 1150.6,594.5"/>
<polygon fill="#B3B3B3" points="1214.6,595.3 1224.6,591.1 1231.4,587.7 1241.5,586.0 1254.9,591.1 1265.0,587.7 1270.1,579.3 1278.5,574.3 1288.6,569.2 1297.0,570.9 1298.6,577.6 1303.7,581.0 1315.5,577.6 1322.2,572.6 1328.9,570.9 1335.6,567.5 1339.0,570.9 1328.9,579.3 1320.5,587.7 1313.8,597.8 1312.1,604.6 1313.8,620.0 1184.3,620.0 1184.3,613.0 1191.0,604.6 1201.1,599.5"/>
<polygon fill="#B3B3B3" points="1302.0,528.9 1310.4,525.5 1315.5,532.2 1313.8,542.3 1308.7,549.0 1302.0,545.7"/>
<polygon fill="#B3B3B3" points="1273.4,549.9 1281.8,549.0 1281.8,557.5 1273.4,557.5"/>
<polygon fill="#B3B3B3" points="1265.0,565.9 1271.7,565.9 1271.7,570.9 1265.0,570.9"/>
<polygon fill="#4D4D4D" points="1241.5,599.5 1249.9,597.0 1258.3,600.3 1256.6,609.6 1246.5,610.4 1240.6,606.2"/>
<polygon fill="#4D4D4D" points="1263.3,599.5 1273.4,596.1 1281.8,599.5 1280.1,609.6 1268.4,611.3 1262.5,606.2"/>
<polygon fill="#4D4D4D" points="1217.9,613.0 1228.0,608.8 1241.5,610.4 1248.2,614.6 1248.2,620.0 1217.9,620.0"/>
<polygon fill="#4D4D4D" points="1103.5,569.2 1113.6,568.4 1117.0,574.3 1108.6,577.6 1103.5,574.3"/>
<polygon fill="#4D4D4D" points="1080.0,570.9 1086.7,572.6 1088.4,587.7 1085.0,597.8 1080.0,599.5"/>
<polygon fill="#B3B3B3" points="730.0,470.0 787.2,470.0 787.2,473.4 857.8,473.4 931.8,473.4 941.9,486.8 947.0,495.2 962.1,512.0 978.9,503.6 992.4,498.6 1015.9,500.3 1029.4,496.9 1032.7,503.6 1049.6,500.3 1080.0,503.6 1080.0,564.2 1049.6,564.2 1037.8,565.9 947.0,565.9 947.0,564.2 923.4,567.5 915.0,564.2 904.9,557.5 894.8,550.7 787.2,550.7 768.7,550.7 730.0,550.7"/>
<polygon fill="#4D4D4D" points="790.5,475.0 857.8,474.2 864.6,480.1 874.6,488.5 888.1,493.5 891.5,503.6 881.4,505.3 869.6,503.6 864.6,510.4 857.8,520.5 847.7,523.8 837.6,525.5 830.9,522.1 817.5,523.8 810.7,518.8 804.0,517.1 797.3,510.4 792.2,507.0 790.5,486.8"/>
<polygon fill="#4D4D4D" points="827.5,537.3 837.6,535.6 847.7,540.6 857.8,539.0 867.9,537.3 878.0,542.3 888.1,548.2 894.8,550.7 827.5,550.7 824.2,544.0"/>
<polygon fill="#4D4D4D" points="768.7,551.6 894.8,551.6 904.9,557.5 915.0,564.2 923.4,567.5 947.0,566.7 1037.8,566.7 1046.2,570.9 1049.6,564.2 1080.0,567.5 1080.0,620.0 730.0,620.0 730.0,597.8 746.8,594.5 765.3,587.7 768.7,570.9"/>
<polygon fill="#4D4D4D" points="740.1,512.0 753.5,510.4 768.7,512.0 785.5,510.4 785.5,528.9 772.0,527.2 763.6,537.3 746.8,539.0 740.1,528.9 730.0,525.5 730.0,518.8"/>
<polygon fill="#B3B3B3" points="891.5,554.1 904.9,554.1 915.0,557.5 928.5,554.1 941.9,554.1 946.1,565.9 945.3,577.6 938.6,586.0 928.5,577.6 920.1,570.9 915.0,577.6 911.6,586.0 904.9,584.4 904.9,574.3 910.0,567.5 901.6,560.8"/>
<polygon fill="#B3B3B3" points="947.0,566.7 1015.9,567.5 1015.9,574.3 1002.5,577.6 999.1,587.7 992.4,594.5 965.5,594.5 948.6,591.1"/>
<polygon fill="#B3B3B3" points="770.4,554.1 780.5,555.8 778.8,577.6 772.0,579.3 770.4,570.9"/>
<polygon fill="#B3B3B3" points="1027.7,592.8 1034.4,591.1 1034.4,602.9 1028.5,604.6"/>
<polygon fill="#B3B3B3" points="888.1,591.1 896.5,587.7 894.8,599.5 889.8,601.2"/>
<polygon fill="#B3B3B3" points="923.4,609.6 945.3,607.9 947.0,620.0 923.4,620.0"/>
<polygon fill="#4D4D4D" points="1032.7,503.6 1039.5,502.0 1041.1,513.7 1046.2,525.5 1041.1,527.2 1034.4,517.1"/>
<polygon fill="#4D4D4D" points="962.1,537.3 970.5,536.4 972.2,545.7 965.5,547.4"/>
<polygon fill="#B3B3B3" points="950.3,483.5 957.1,482.6 957.9,488.5 951.2,489.3"/>
<polygon fill="#B3B3B3" points="978.9,486.0 982.3,486.0 982.3,489.3 978.9,489.3"/>
<polygon fill="#B3B3B3" points="965.5,489.3 970.5,489.3 970.5,493.5 965.5,493.5"/>
<polygon fill="#B3B3B3" points="1059.6,486.8 1066.4,486.8 1066.4,493.5 1059.6,493.5"/>
<polygon fill="#B3B3B3" points="1064.7,493.5 1071.4,493.5 1071.4,500.3 1064.7,500.3"/>
</g>
<g filter="url(#cz)">
<g filter="url(#bX)">
<polygon fill="#ffffff" points="894.8,503.6 904.9,501.1 915.0,502.0 916.7,508.7 908.3,510.4 908.3,517.1 918.4,518.8 928.5,513.7 938.6,515.4 936.9,525.5 935.2,533.9 928.5,535.6 930.1,544.0 925.1,540.6 921.7,533.9 915.0,537.3 904.9,535.6 899.9,527.2 894.8,520.5 896.5,512.0"/>
<polygon fill="#ffffff" points="921.7,502.0 940.2,500.3 940.2,510.4 931.8,512.0 923.4,508.7"/>
<polygon fill="#ffffff" points="898.2,475.0 931.8,475.0 940.2,486.8 945.3,495.2 940.2,502.0 921.7,502.0 915.0,495.2 904.9,490.2 898.2,483.5"/>
<polygon fill="#ffffff" points="947.8,515.4 955.4,512.9 962.1,518.8 960.4,528.9 953.7,540.6 948.6,537.3"/>
<polygon fill="#ffffff" points="994.1,523.8 999.1,515.4 1007.5,508.7 1015.9,512.0 1019.3,522.1 1027.7,533.9 1029.4,540.6 1019.3,542.3 1007.5,540.6 999.1,537.3"/>
<polygon fill="#ffffff" points="978.9,544.0 989.0,542.3 999.1,540.6 1005.8,549.0 999.1,554.1 989.0,557.5 980.6,552.4"/>
<polygon fill="#ffffff" points="1049.6,523.8 1056.3,527.2 1059.6,537.3 1054.6,540.6 1049.6,532.2"/>
<polygon fill="#ffffff" points="948.6,577.6 958.7,574.3 972.2,570.9 975.6,577.6 985.6,581.0 985.6,587.7 972.2,589.4 958.7,586.0 950.3,584.4"/>
<polygon fill="#ffffff" points="965.5,503.6 978.9,503.6 992.4,498.6 992.4,508.7 982.3,513.7 972.2,510.4"/>
</g>
<g filter="url(#bW)">
<polygon fill="#000000" points="730.0,481.8 740.1,480.1 750.2,485.1 760.3,481.8 768.7,488.5 773.7,495.2 763.6,502.0 753.5,512.0 740.1,512.0 730.0,508.7"/>
<polygon fill="#000000" points="730.0,527.2 736.7,528.9 743.5,537.3 745.1,545.7 730.0,547.4"/>
<polygon fill="#ffffff" points="730.0,491.9 736.7,491.0 738.4,497.8 731.7,500.3"/>
</g>
</g>
<g>
<polygon fill="#4D4D4D" points="1037.8,564.2 1053.8,564.2 1049.6,571.8 1038.6,571.8"/>
<polygon fill="#4D4D4D" points="300.0,620.0 1010.0,620.0 1010.0,605.0 1400.0,605.0 1400.0,892.0 300.0,892.0"/>
<polygon fill="#B3B3B3" points="1082.3,606.8 1183.2,606.8 1188.3,616.9 1195.0,627.0 1196.7,640.5 1195.0,650.5 1188.3,653.9 1181.6,645.5 1171.5,650.5 1166.4,657.3 1158.0,662.3 1153.0,657.3 1146.2,660.6 1141.2,665.7 1134.5,669.0 1127.7,664.0 1121.0,657.3 1114.3,652.2 1104.2,653.9 1097.5,647.2 1090.7,640.5 1084.0,633.7 1082.3,620.3"/>
<polygon fill="#B3B3B3" points="1107.5,657.3 1116.0,657.3 1114.3,665.7 1107.5,667.4"/>
<polygon fill="#B3B3B3" points="1147.9,667.4 1158.0,665.7 1171.5,665.7 1174.8,670.7 1168.1,677.5 1158.0,680.8 1149.6,675.8"/>
<polygon fill="#B3B3B3" points="1107.5,684.2 1117.6,682.5 1127.7,680.8 1136.1,679.1 1134.5,687.5 1126.0,690.9 1114.3,689.2 1107.5,689.2"/>
<polygon fill="#B3B3B3" points="1178.2,664.0 1184.9,664.0 1184.9,670.7 1178.2,670.7"/>
<polygon fill="#B3B3B3" points="1191.6,657.3 1196.7,656.4 1196.7,662.3 1191.6,663.2"/>
<polygon fill="#B3B3B3" points="1058.8,653.1 1065.5,653.1 1067.2,664.0 1065.5,665.7 1058.8,655.6"/>
<polygon fill="#B3B3B3" points="1043.6,640.5 1052.0,642.1 1050.4,647.2 1044.5,646.3"/>
<polygon fill="#B3B3B3" points="1026.8,593.4 1033.5,591.7 1035.2,600.1 1028.5,603.5"/>
<polygon fill="#B3B3B3" points="1072.2,610.2 1079.0,608.5 1079.0,620.3 1073.9,618.6"/>
<polygon fill="#B3B3B3" points="1127.7,664.0 1137.8,662.3 1137.8,670.7 1131.1,674.1"/>
<polygon fill="#4D4D4D" points="1095.8,635.4 1110.9,633.7 1110.9,640.5 1097.5,642.1"/>
<polygon fill="#4D4D4D" points="1141.2,623.6 1153.0,623.6 1153.0,630.4 1141.2,630.4"/>
<polygon fill="#B3B3B3" points="1184.9,608.5 1198.4,603.5 1211.8,600.1 1232.0,600.1 1238.7,606.8 1258.9,608.5 1272.4,616.9 1282.5,630.4 1295.9,630.4 1306.0,620.3 1312.7,613.5 1314.4,600.1 1311.1,590.0 1228.6,590.0 1195.0,590.0 1183.2,598.4 1183.2,606.8"/>
<polygon fill="#B3B3B3" points="1184.9,609.3 1198.4,604.3 1211.8,600.9 1232.0,600.9 1235.4,608.5 1228.6,611.9 1218.6,611.9 1211.8,620.3 1208.5,630.4 1201.7,630.4 1195.0,622.0 1188.3,615.2"/>
<polygon fill="#B3B3B3" points="1235.4,608.5 1258.9,609.3 1272.4,617.8 1282.5,631.2 1275.7,637.1 1269.0,647.2 1258.9,657.3 1248.8,664.0 1237.1,674.1 1232.0,679.1 1228.6,669.0 1235.4,662.3 1235.4,653.9 1245.5,652.2 1252.2,645.5 1248.8,637.1 1250.5,628.7 1245.5,620.3 1237.1,616.9"/>
<polygon fill="#4D4D4D" points="1242.1,593.4 1252.2,593.4 1253.9,601.8 1245.5,603.5"/>
<polygon fill="#4D4D4D" points="1269.0,596.7 1279.1,595.0 1282.5,601.8 1272.4,603.5"/>
<polygon fill="#4D4D4D" points="1248.8,618.6 1262.3,616.9 1262.3,628.7 1252.2,630.4"/>
<polygon fill="#4D4D4D" points="1279.1,608.5 1285.8,608.5 1285.8,615.2 1279.1,615.2"/>
<polygon fill="#4D4D4D" points="1297.6,611.9 1302.6,611.9 1302.6,617.8 1297.6,617.8"/>
<polygon fill="#B3B3B3" points="1216.9,633.7 1227.0,632.0 1228.6,640.5 1220.2,642.1"/>
</g>
<g filter="url(#cz)">
<g filter="url(#bM)">
<polygon fill="#ffffff" points="1153.0,606.8 1183.2,606.8 1184.9,610.2 1179.9,620.3 1168.1,622.8 1158.0,622.0 1154.6,615.2"/>
<polygon fill="#ffffff" points="1127.7,606.8 1137.8,606.8 1134.5,615.2 1127.7,622.0 1124.4,618.6"/>
<polygon fill="#262626" points="1084.0,611.9 1090.7,610.2 1104.2,613.5 1117.6,610.2 1127.7,607.7 1132.8,616.9 1126.0,628.7 1114.3,633.7 1104.2,630.4 1094.1,627.0 1084.0,625.3"/>
<polygon fill="#5c5c5c" points="1085.7,616.9 1094.1,615.2 1104.2,619.4 1114.3,617.8 1122.7,622.0 1114.3,629.5 1104.2,627.0 1094.1,623.6 1086.5,622.0"/>
<polygon fill="#bfbfbf" points="1110.9,623.6 1117.6,615.2 1127.7,608.5 1131.1,611.9 1124.4,618.6 1117.6,627.0"/>
<polygon fill="#262626" points="1126.0,645.5 1131.1,635.4 1137.8,633.7 1149.6,635.4 1153.0,640.5 1144.6,647.2 1137.8,653.9 1127.7,653.9"/>
</g>
<g filter="url(#bW)">
<polygon fill="#cccccc" points="1127.7,643.8 1134.5,635.4 1137.8,637.1 1132.8,647.2"/>
<polygon fill="#5c5c5c" points="1142.9,637.1 1149.6,637.9 1147.9,645.5 1142.0,643.8"/>
<polygon fill="#000000" points="1149.6,648.9 1161.4,647.2 1164.7,653.9 1158.0,660.6 1151.3,659.0"/>
<polygon fill="#000000" points="1124.4,650.5 1131.1,648.9 1134.5,655.6 1127.7,657.3"/>
<polygon fill="#000000" points="1294.2,599.3 1302.6,598.4 1303.5,602.6 1295.1,603.5"/>
<polygon fill="#5c5c5c" points="925.7,608.2 940.8,606.5 957.6,611.6 961.0,620.0 944.2,623.3 927.4,618.3"/>
<polygon fill="#b2b2b2" points="947.5,613.2 957.6,612.2 959.3,618.3 949.2,619.0"/>
</g>
</g>
<g>
<polygon fill="#B3B3B3" points="417.8,272.2 424.6,270.5 429.6,278.9 438.0,282.3 448.1,278.9 458.2,282.3 463.2,290.7 464.9,302.5 458.2,309.2 441.4,312.5 424.6,314.2 407.7,312.5 397.6,309.2 396.0,302.5 407.7,299.1 411.1,289.0 417.8,282.3"/>
<polygon fill="#4D4D4D" points="411.1,294.0 422.9,292.4 426.2,302.5 433.0,309.2 427.9,312.5 417.8,305.8 407.7,305.8 399.3,306.7 397.6,303.3 407.7,300.8"/>
<polygon fill="#4D4D4D" points="441.4,297.4 451.5,292.4 459.9,295.7 458.2,300.8 448.1,302.5 441.4,305.8"/>
<polygon fill="#B3B3B3" points="399.3,322.6 411.1,317.6 424.6,315.9 438.0,317.6 446.4,322.6 441.4,329.4 427.9,331.0 417.8,327.7 407.7,329.4 399.3,327.7"/>
<polygon fill="#4D4D4D" points="421.2,319.3 429.6,318.4 429.6,322.6 422.9,323.5"/>
</g>
<g filter="url(#sS3a)">
<polygon fill="#B3B3B3" points="380.8,322.6 394.3,319.3 407.7,322.6 411.1,332.7 424.6,342.8 417.8,349.6 404.4,349.6 390.9,359.6 380.8,356.3 377.5,339.5"/>
</g>
<g>
<polygon fill="#B3B3B3" points="459.9,342.8 468.3,344.5 471.6,354.6 475.0,365.0 461.6,365.0 458.2,352.9"/>
</g>
<g filter="url(#sS3a)">
<polygon fill="#4D4D4D" points="328.7,400.5 357.3,400.5 357.3,419.0 328.7,419.0"/>
</g>
<g filter="url(#sS5a)">
<polygon fill="#B3B3B3" points="439.7,370.2 451.5,365.2 464.9,360.1 472.5,361.8 472.5,419.0 438.0,419.0 433.0,408.9 441.4,395.5 448.1,385.4 441.4,378.6"/>
</g>
<g>
<polygon fill="#4D4D4D" points="463.2,361.8 472.5,361.8 472.5,370.2 464.9,371.9"/>
<polygon fill="#B3B3B3" points="475.0,361.8 485.1,371.9 491.8,382.0 501.9,387.0 515.4,390.4 525.5,393.8 528.8,405.5 522.1,408.9 508.6,407.2 498.6,402.2 491.8,398.8 485.1,392.1 476.7,378.6"/>
<polygon fill="#4D4D4D" points="488.5,390.4 498.6,388.7 513.7,393.8 515.4,402.2 508.6,405.5 498.6,400.5 491.8,395.5"/>
<polygon fill="#4D4D4D" points="476.7,370.2 486.8,373.6 491.8,378.6 483.4,378.6"/>
</g>
<g filter="url(#sS3a)">
<polygon fill="#B3B3B3" points="322.0,420.7 364.0,420.7 367.4,445.9 360.6,462.7 357.3,495.0 323.6,495.0"/>
</g>
<g>
<polygon fill="#4D4D4D" points="353.9,452.6 364.0,445.9 370.7,452.6 374.1,466.1 380.8,479.6 387.5,495.0 357.3,495.0 352.2,479.6 350.5,462.7"/>
<polygon fill="#B3B3B3" points="396.0,457.7 407.7,456.0 407.7,469.5 397.6,469.5"/>
</g>
<g filter="url(#sS5a)">
<polygon fill="#B3B3B3" points="411.1,420.7 475.0,420.7 478.4,439.2 468.3,452.6 475.0,466.1 468.3,495.0 411.1,495.0"/>
</g>
<g filter="url(#sS3b)">
<polygon fill="#4D4D4D" points="411.1,439.2 475.0,439.2 475.0,495.0 411.1,495.0"/>
</g>
<g>
<polygon fill="#4D4D4D" points="414.5,472.8 424.6,466.1 441.4,462.7 458.2,459.4 464.9,466.1 454.8,479.6 441.4,489.6 424.6,495.0 414.5,495.0"/>
</g>
<g filter="url(#sS2a)">
<polygon fill="#B3B3B3" points="473.3,445.9 533.9,445.9 533.9,495.0 468.3,495.0"/>
</g>
<g>
<polygon fill="#4D4D4D" points="538.1,432.5 549.0,429.1 555.7,439.2 559.1,452.6 565.8,462.7 575.9,472.8 582.6,482.9 582.6,495.0 538.1,495.0"/>
<polygon fill="#B3B3B3" points="552.4,424.0 565.8,422.4 579.3,425.7 579.3,439.2 572.6,452.6 562.5,449.3 555.7,435.8"/>
</g>
<g filter="url(#sS4a)">
<polygon fill="#B3B3B3" points="537.2,420.7 586.0,420.7 586.0,495.0 537.2,495.0"/>
<polygon fill="#B3B3B3" points="609.6,459.4 640.0,459.4 640.0,482.9 609.6,482.9"/>
</g>
<g>
<polygon fill="#4D4D4D" points="619.6,462.7 640.0,462.7 640.0,477.9 623.0,477.9"/>
<polygon fill="#4D4D4D" points="323.6,495.0 640.0,495.0 640.0,625.0 323.6,625.0"/>
</g>
<g filter="url(#cz)">
<g filter="url(#bN7)">
<polygon fill="#ffffff" points="327.0,475.0 353.9,475.0 360.6,491.8 370.7,508.6 380.8,522.1 384.2,542.3 390.9,562.5 401.0,575.9 411.1,592.7 424.6,606.2 441.4,612.9 458.2,625.0 397.6,625.0 390.9,596.1 370.7,569.2 364.0,549.0 357.3,528.8 345.5,517.0 332.0,501.9"/>
</g>
</g>
<g filter="url(#sS3a)">
<polygon fill="#B3B3B3" points="327.0,475.0 353.9,475.0 360.6,491.8 370.7,508.6 380.8,522.1 384.2,542.3 390.9,562.5 401.0,575.9 411.1,592.7 424.6,606.2 441.4,612.9 458.2,625.0 397.6,625.0 390.9,596.1 370.7,569.2 364.0,549.0 357.3,528.8 345.5,517.0 332.0,501.9"/>
</g>
<g>
<polygon fill="#B3B3B3" points="370.7,515.4 379.1,512.8 381.7,520.4 374.1,523.8"/>
</g>
<g filter="url(#cz)">
<g filter="url(#bN5)">
<polygon fill="#ffffff" points="384.2,475.0 407.7,475.0 411.1,498.5 424.6,515.4 441.4,530.5 451.5,545.6 454.8,562.5 451.5,579.3 448.1,596.1 441.4,609.6 434.6,607.9 438.0,589.4 434.6,569.2 424.6,552.4 411.1,535.5 401.0,518.7 390.9,501.9"/>
</g>
</g>
<g filter="url(#sS3a)">
<polygon fill="#B3B3B3" points="384.2,475.0 407.7,475.0 411.1,498.5 424.6,515.4 441.4,530.5 451.5,545.6 454.8,562.5 451.5,579.3 448.1,596.1 441.4,609.6 434.6,607.9 438.0,589.4 434.6,569.2 424.6,552.4 411.1,535.5 401.0,518.7 390.9,501.9"/>
</g>
<g filter="url(#cz)">
<g filter="url(#bW)">
<polygon fill="#ffffff" points="390.9,475.0 407.7,475.0 408.6,498.5 397.6,491.8"/>
</g>
<g filter="url(#bN3)">
<polygon fill="#ffffff" points="412.8,475.0 533.9,475.0 533.9,549.0 508.6,552.4 483.4,549.0 458.2,542.3 441.4,525.5 412.8,498.5"/>
</g>
</g>
<g filter="url(#sS5b)">
<polygon fill="#4D4D4D" points="412.8,475.0 533.9,475.0 533.9,549.0 508.6,552.4 483.4,549.0 458.2,542.3 441.4,525.5 412.8,498.5"/>
</g>
<g filter="url(#sS3a)">
<polygon fill="#B3B3B3" points="412.8,475.0 533.9,475.0 533.9,549.0 508.6,552.4 483.4,549.0 458.2,542.3 441.4,525.5 412.8,498.5"/>
</g>
<g filter="url(#cz)">
<g filter="url(#bN8)">
<polygon fill="#ffffff" points="458.2,485.1 468.3,478.4 491.8,475.0 525.5,475.0 528.8,491.8 522.1,508.6 508.6,505.3 498.6,508.6 488.5,505.3 481.7,518.7 475.0,520.4 468.3,508.6 461.6,498.5"/>
</g>
<g filter="url(#bN2)">
<polygon fill="#ffffff" points="458.2,552.4 515.4,554.0 508.6,579.3 498.6,582.6 475.0,569.2"/>
</g>
</g>
<g filter="url(#sS7b)">
<polygon fill="#4D4D4D" points="458.2,552.4 515.4,554.0 508.6,579.3 498.6,582.6 475.0,569.2"/>
</g>
<g filter="url(#cz)">
<g filter="url(#bN4)">
<polygon fill="#ffffff" points="537.2,475.0 640.0,475.0 640.0,549.0 537.2,549.0"/>
</g>
</g>
<g filter="url(#sS6b)">
<polygon fill="#4D4D4D" points="537.2,475.0 640.0,475.0 640.0,549.0 537.2,549.0"/>
</g>
<g filter="url(#sS2a)">
<polygon fill="#B3B3B3" points="537.2,475.0 640.0,475.0 640.0,549.0 537.2,549.0"/>
</g>
<g filter="url(#cz)">
<g filter="url(#bW)">
<polygon fill="#ffffff" points="606.2,485.1 616.3,481.7 619.6,495.2 609.6,508.6 596.1,518.7 586.0,528.8 575.9,538.9 562.5,545.6 555.7,542.3 565.8,528.8 579.3,515.4 592.7,501.9"/>
<polygon fill="#000000" points="540.6,525.5 552.4,508.6 565.8,498.5 572.6,508.6 565.8,525.5 555.7,538.9 542.3,542.3"/>
<polygon fill="#ffffff" points="619.6,475.0 640.0,475.0 640.0,488.5 626.4,491.8"/>
<polygon fill="#000000" points="606.2,555.7 626.4,554.0 640.0,559.1 640.0,592.7 626.4,589.4 616.3,575.9 606.2,569.2"/>
<polygon fill="#000000" points="555.7,579.3 575.9,575.9 586.0,589.4 579.3,602.8 565.8,596.1 555.7,592.7"/>
<polygon fill="#000000" points="575.9,586.0 589.4,582.6 609.6,602.8 626.4,616.3 640.0,625.0 623.0,625.0 602.8,609.6 586.0,596.1"/>
<polygon fill="#ffffff" points="572.6,559.1 579.3,557.4 581.0,569.2 575.9,574.2 572.6,567.5"/>
<polygon fill="#ffffff" points="579.3,591.0 586.0,589.4 589.4,596.1 584.3,601.1 579.3,597.8"/>
<polygon fill="#ffffff" points="586.0,604.5 592.7,602.8 596.1,614.6 589.4,618.0"/>
</g>
</g>
<g filter="url(#sS1a)">
<polygon fill="#B3B3B3" points="538.9,555.7 640.0,555.7 640.0,625.0 538.9,625.0"/>
</g>
<g>
<polygon fill="#B3B3B3" points="559.1,579.3 567.5,577.6 569.2,589.4 560.8,591.0"/>
<polygon fill="#4D4D4D" points="380.0,623.5 730.0,623.5 730.0,750.0 380.0,750.0"/>
</g>
<g filter="url(#cz)">
<g filter="url(#bN8)">
<polygon fill="#ffffff" points="396.8,600.0 430.5,600.0 443.9,610.1 460.7,620.2 480.9,626.9 484.3,637.0 480.9,643.7 474.2,640.4 467.5,633.6 454.0,628.6 443.9,630.3 430.5,623.5 413.6,620.2 396.8,616.8"/>
</g>
<g filter="url(#bN6)">
<polygon fill="#ffffff" points="443.9,630.3 454.0,628.6 467.5,633.6 477.5,642.0 484.3,655.5 489.3,665.6 470.8,669.0 467.5,657.2 460.7,647.1 450.6,638.7"/>
</g>
</g>
<g filter="url(#sS2a)">
<polygon fill="#B3B3B3" points="443.9,630.3 454.0,628.6 467.5,633.6 477.5,642.0 484.3,655.5 489.3,665.6 470.8,669.0 467.5,657.2 460.7,647.1 450.6,638.7"/>
</g>
<g filter="url(#sS3b)">
<polygon fill="#4D4D4D" points="396.8,600.0 430.5,600.0 443.9,610.1 460.7,620.2 480.9,626.9 484.3,637.0 489.3,665.6 470.8,669.0 460.7,647.1 443.9,630.3 413.6,620.2"/>
</g>
<g filter="url(#cz)">
<g filter="url(#bW)">
<polygon fill="#000000" points="445.6,628.6 454.0,630.3 459.0,636.2 452.3,637.0 446.4,633.6"/>
</g>
</g>
<g>
<polygon fill="#B3B3B3" points="568.4,600.0 605.4,600.0 618.8,611.8 639.0,615.1 639.0,653.8 625.6,652.1 612.1,642.0 598.6,630.3 585.2,618.5 575.1,610.1"/>
</g>
<g filter="url(#cz)">
<g filter="url(#bW)">
<polygon fill="#000000" points="573.4,600.0 598.6,600.0 612.1,613.5 625.6,620.2 639.0,618.5 639.0,648.8 628.9,647.1 618.8,637.0 605.4,626.9 591.9,616.8 581.8,610.1"/>
<polygon fill="#ffffff" points="623.9,628.6 632.3,625.2 639.0,630.3 637.3,640.4 628.9,642.0 623.9,635.3"/>
<polygon fill="#bfbfbf" points="585.2,603.4 591.9,601.7 595.3,610.1 590.2,613.5"/>
</g>
</g>
<g>
<polygon fill="#B3B3B3" points="603.7,605.0 618.8,610.1 632.3,615.1 632.3,618.5 615.5,616.8 602.0,610.1"/>
</g>
<g filter="url(#cz)">
<g filter="url(#bN3)">
<polygon fill="#ffffff" points="598.6,663.9 639.0,663.9 639.0,700.9 598.6,700.9"/>
</g>
</g>
<g filter="url(#sS8b)">
<polygon fill="#4D4D4D" points="598.6,663.9 639.0,663.9 639.0,700.9 598.6,700.9"/>
</g>
<g filter="url(#cz)">
<g filter="url(#bN3)">
<polygon fill="#ffffff" points="531.4,600.0 573.4,600.0 598.6,630.3 590.2,637.0 565.0,626.9 538.1,610.1"/>
</g>
</g>
<g filter="url(#sS8b)">
<polygon fill="#4D4D4D" points="531.4,600.0 573.4,600.0 598.6,630.3 590.2,637.0 565.0,626.9 538.1,610.1"/>
</g>
<g filter="url(#cz)">
<g filter="url(#bW)">
<polygon fill="#ffffff" points="642.4,643.7 652.5,655.5 662.6,658.9 669.3,650.5 677.7,650.5 672.6,663.9 665.9,670.6 655.8,667.3 649.1,674.0 643.2,663.9"/>
<polygon fill="#000000" points="642.4,600.0 679.4,600.0 681.1,616.8 676.0,633.6 669.3,650.5 662.6,658.9 652.5,655.5 644.1,647.1 642.4,633.6"/>
<polygon fill="#999999" points="652.5,603.4 660.9,601.7 662.6,613.5 655.8,620.2 650.8,613.5"/>
<polygon fill="#ffffff" points="689.5,616.8 696.2,613.5 699.6,633.6 709.6,650.5 713.0,670.6 708.0,672.3 702.9,653.8 692.8,637.0"/>
<polygon fill="#000000" points="696.2,600.0 730.0,600.0 730.0,650.5 723.1,670.6 713.0,670.6 709.6,650.5 699.6,633.6 692.8,616.8"/>
<polygon fill="#ffffff" points="721.4,613.5 730.0,610.1 730.0,667.3 723.1,670.6 724.8,650.5"/>
</g>
</g>
<g>
<polygon fill="#B3B3B3" points="723.9,600.0 730.0,600.0 730.0,680.7 724.8,679.0 726.5,650.5"/>
</g>
<g filter="url(#sS3a)">
<polygon fill="#B3B3B3" points="642.4,600.0 682.7,600.0 682.7,680.7 642.4,680.7"/>
</g>
<g filter="url(#sS3b)">
<polygon fill="#4D4D4D" points="642.4,600.0 682.7,600.0 682.7,680.7 642.4,680.7"/>
</g>
<g>
<polygon fill="#B3B3B3" points="654.8,383.8 662.3,382.9 664.0,390.5 656.4,392.2"/>
<polygon fill="#B3B3B3" points="724.6,378.7 738.0,375.4 744.7,380.4 744.7,388.8 734.6,390.5 726.2,385.5"/>
<polygon fill="#B3B3B3" points="722.9,414.0 733.0,409.0 744.7,412.4 744.7,425.8 733.0,422.5 724.6,420.8"/>
<polygon fill="#B3B3B3" points="748.1,414.0 758.2,417.4 768.3,429.2 758.2,432.5 748.1,429.2"/>
<polygon fill="#4D4D4D" points="620.3,466.2 628.7,462.8 640.5,464.5 640.5,478.0 623.6,478.0"/>
</g>
<g filter="url(#sS2a)">
<polygon fill="#B3B3B3" points="590.0,444.3 721.2,444.3 721.2,485.0 590.0,485.0"/>
</g>
<g filter="url(#sS6b)">
<polygon fill="#4D4D4D" points="590.0,481.8 640.5,465.0 640.5,550.8 590.0,550.8"/>
</g>
<g filter="url(#sS2a)">
<polygon fill="#B3B3B3" points="590.0,481.8 640.5,465.0 640.5,550.8 590.0,550.8"/>
</g>
<g>
<polygon fill="#4D4D4D" points="643.8,491.9 657.3,490.2 669.0,498.6 670.7,508.7 657.3,512.1 645.5,505.4"/>
</g>
<g filter="url(#sS2a)">
<polygon fill="#B3B3B3" points="642.1,465.0 729.9,465.0 729.9,550.8 642.1,550.8"/>
</g>
<g filter="url(#cz)">
<g filter="url(#bW)">
<polygon fill="#000000" points="726.2,486.9 738.0,480.1 751.5,481.8 764.9,480.1 773.3,495.3 764.9,503.7 751.5,508.7 738.0,510.4 727.9,503.7"/>
<polygon fill="#000000" points="729.6,535.6 741.4,532.3 751.5,542.4 766.6,545.7 766.6,549.9 731.3,549.9"/>
<polygon fill="#000000" points="761.6,465.0 775.0,465.0 773.3,471.7 763.2,471.7"/>
</g>
</g>
<g>
<polygon fill="#4D4D4D" points="590.0,552.5 640.5,552.5 640.5,615.0 590.0,615.0"/>
<polygon fill="#B3B3B3" points="595.0,557.5 616.9,553.3 632.0,564.2 636.3,584.4 622.0,589.5 610.2,576.0 596.7,572.6"/>
</g>
<g filter="url(#cz)">
<g filter="url(#bW)">
<polygon fill="#000000" points="598.4,559.2 615.2,555.8 628.7,565.9 632.0,582.7 623.6,586.1 613.5,572.6 600.1,569.3"/>
<polygon fill="#000000" points="590.0,599.6 600.1,597.9 610.2,615.0 590.0,615.0"/>
<polygon fill="#b2b2b2" points="632.9,582.7 637.9,581.0 638.8,591.1 633.7,592.8"/>
</g>
</g>
<g>
<polygon fill="#4D4D4D" points="643.0,554.1 660.6,554.1 657.3,565.9 650.5,582.7 643.0,582.7"/>
<polygon fill="#B3B3B3" points="680.8,592.8 690.9,586.1 704.4,589.5 707.7,599.6 704.4,615.0 684.2,615.0"/>
<polygon fill="#4D4D4D" points="687.5,596.2 697.6,592.8 701.0,602.9 697.6,615.0 689.2,615.0"/>
</g>
<g filter="url(#sS4a)">
<polygon fill="#B3B3B3" points="721.2,582.7 766.6,565.9 766.6,615.0 721.2,615.0"/>
</g>
<g filter="url(#sS3b)">
<polygon fill="#4D4D4D" points="734.6,592.8 766.6,582.7 766.6,615.0 734.6,615.0"/>
</g>
<g>
<polygon fill="#4D4D4D" points="729.9,611.8 940.0,611.8 940.0,745.0 729.9,745.0"/>
<polygon fill="#B3B3B3" points="734.6,595.0 738.0,605.1 733.0,628.6 727.9,645.5 731.3,665.6 736.3,679.1 733.0,679.1 726.2,662.3 724.6,645.5 729.6,628.6 733.0,611.8"/>
</g>
<g filter="url(#cz)">
<g filter="url(#bW)">
<polygon fill="#ffffff" points="724.6,595.0 734.6,595.0 733.0,615.2 727.9,635.4 724.6,652.2 729.6,669.0 734.6,680.8 727.9,680.8 721.2,665.6 719.5,645.5 722.9,621.9"/>
</g>
</g>
<g>
<polygon fill="#B3B3B3" points="736.3,600.0 764.9,598.4 764.9,618.5 749.8,618.5 738.0,611.8"/>
</g>
<g filter="url(#cz)">
<g filter="url(#bW)">
<polygon fill="#ffffff" points="756.5,604.3 763.2,604.3 764.1,611.0 757.3,611.8"/>
</g>
</g>
<g>
<polygon fill="#B3B3B3" points="736.3,712.7 751.5,711.0 756.5,722.8 751.5,734.6 739.7,736.3 736.3,726.2"/>
</g>
<g filter="url(#cz)">
<g filter="url(#bW)">
<polygon fill="#ffffff" points="741.4,714.4 748.1,712.7 749.8,726.2 744.7,727.9 741.4,722.8"/>
<polygon fill="#000000" points="751.5,729.6 766.6,724.5 764.9,729.6 754.8,736.3"/>
</g>
</g>
<g>
<polygon fill="#B3B3B3" points="894.4,611.0 901.1,610.1 902.0,620.2 895.3,620.2"/>
<polygon fill="#B3B3B3" points="924.7,610.1 940.0,610.1 940.0,627.0 926.4,625.3"/>
<polygon fill="#B3B3B3" points="749.8,625.3 754.0,625.3 757.3,643.8 753.1,643.8"/>
<polygon fill="#4D4D4D" points="310.2,453.5 353.9,450.1 374.1,450.1 390.9,480.4 411.1,493.8 525.5,608.2 532.2,628.4 522.1,672.1 471.6,675.5 310.2,675.5"/>
</g>
<g filter="url(#cz)">
<g filter="url(#bN7)">
<polygon fill="#ffffff" points="316.9,453.5 340.5,453.5 340.5,473.6 347.2,497.2 357.3,524.1 374.1,551.0 387.5,574.6 404.4,598.1 421.2,608.2 441.4,621.6 464.9,628.4 485.1,641.8 488.5,668.7 468.3,672.1 464.9,655.3 438.0,638.5 401.0,621.6 394.3,601.5 370.7,577.9 367.4,554.4 343.8,524.1 327.0,497.2"/>
</g>
</g>
<g filter="url(#sS2a)">
<polygon fill="#B3B3B3" points="316.9,453.5 340.5,453.5 340.5,473.6 347.2,497.2 357.3,524.1 374.1,551.0 387.5,574.6 404.4,598.1 421.2,608.2 441.4,621.6 464.9,628.4 485.1,641.8 488.5,668.7 468.3,672.1 464.9,655.3 438.0,638.5 401.0,621.6 394.3,601.5 370.7,577.9 367.4,554.4 343.8,524.1 327.0,497.2"/>
</g>
<g filter="url(#sS4b)">
<polygon fill="#4D4D4D" points="316.9,453.5 340.5,453.5 340.5,473.6 347.2,497.2 357.3,524.1 374.1,551.0 387.5,574.6 404.4,598.1 421.2,608.2 441.4,621.6 464.9,628.4 485.1,641.8 488.5,668.7 468.3,672.1 464.9,655.3 438.0,638.5 401.0,621.6 394.3,601.5 370.7,577.9 367.4,554.4 343.8,524.1 327.0,497.2"/>
</g>
<g filter="url(#cz)">
<g filter="url(#bN8)">
<polygon fill="#ffffff" points="374.1,450.1 411.1,450.1 411.1,490.5 401.0,493.8 390.9,480.4"/>
</g>
<g filter="url(#bN5)">
<polygon fill="#ffffff" points="390.9,480.4 411.1,493.8 431.3,520.7 448.1,547.6 458.2,574.6 454.8,598.1 441.4,614.9 424.6,614.9 434.6,588.0 431.3,561.1 417.8,534.2 401.0,507.3"/>
</g>
</g>
<g filter="url(#sS2a)">
<polygon fill="#B3B3B3" points="390.9,480.4 411.1,493.8 431.3,520.7 448.1,547.6 458.2,574.6 454.8,598.1 441.4,614.9 424.6,614.9 434.6,588.0 431.3,561.1 417.8,534.2 401.0,507.3"/>
</g>
<g filter="url(#sS3b)">
<polygon fill="#4D4D4D" points="390.9,480.4 411.1,493.8 431.3,520.7 448.1,547.6 458.2,574.6 454.8,598.1 441.4,614.9 424.6,614.9 434.6,588.0 431.3,561.1 417.8,534.2 401.0,507.3"/>
</g>
<g>
<polygon fill="#B3B3B3" points="372.4,512.3 380.8,512.3 382.5,522.4 374.1,524.1"/>
<polygon fill="#4D4D4D" points="727.3,594.7 767.7,574.6 767.7,682.2 737.4,682.2 723.9,655.3 727.3,621.6"/>
</g>
<g filter="url(#sS3a)">
<polygon fill="#B3B3B3" points="727.3,594.7 767.7,574.6 767.7,682.2 737.4,682.2 723.9,655.3 727.3,621.6"/>
</g>
<g>
<polygon fill="#4D4D4D" points="676.8,601.5 693.7,598.1 697.0,628.4 690.3,675.5 676.8,675.5"/>
</g>
<g filter="url(#sS3a)">
<polygon fill="#B3B3B3" points="676.8,601.5 693.7,598.1 697.0,628.4 690.3,675.5 676.8,675.5"/>
</g>
<g filter="url(#cz)">
<g filter="url(#bW)">
<polygon fill="#ffffff" points="737.4,601.5 760.9,598.1 764.3,614.9 744.1,618.3"/>
</g>
</g>
<g>
<polygon fill="#B3B3B3" points="1051.8,565.1 1085.5,565.1 1085.5,601.5 1038.4,603.1 1045.1,581.3"/>
</g>
<g filter="url(#sS3b)">
<polygon fill="#4D4D4D" points="1051.8,565.1 1085.5,565.1 1085.5,601.5 1038.4,603.1 1045.1,581.3"/>
</g>
<g>
<polygon fill="#B3B3B3" points="1305.0,600.0 1352.0,600.0 1352.0,612.0 1330.0,622.0 1305.0,625.0"/>
<polygon fill="#4D4D4D" points="538.4,452.0 572.0,446.0 581.0,485.0 584.0,501.8 538.4,501.8"/>
</g>
<g filter="url(#sS4a)">
<polygon fill="#B3B3B3" points="538.4,452.0 572.0,446.0 581.0,485.0 584.0,501.8 538.4,501.8"/>
</g>
<g>
<polygon fill="#B3B3B3" points="546.8,425.0 573.2,422.6 579.2,450.2 557.0,455.0 545.0,446.0"/>
</g>
<g filter="url(#sS7a)">
<polygon fill="#B3B3B3" points="1082.0,611.0 1127.0,635.0 1127.0,671.0 1106.0,662.0 1088.0,638.0"/>
<polygon fill="#B3B3B3" points="1175.0,635.0 1193.0,635.0 1184.0,671.0 1154.0,689.0 1130.0,674.0 1130.0,659.0 1175.0,656.0"/>
</g>
</g>
<path d="M401.0,628.6 L423.7,627.7 L423.7,632.0 L405.2,633.6Z" fill="#CD0000"/>
<path d="M418.3,649.6 L422.0,648.8 L422.9,653.0 L419.5,653.8Z" fill="#CD0000"/>
<path d="M438.9,644.6 L444.7,645.4 L445.6,649.6 L440.5,648.8Z" fill="#CD0000"/>
<path d="M438.9,655.5 L445.6,661.4 L444.7,663.9 L439.7,658.9Z" fill="#CD0000"/>
<path d="M1214.0,879.0 L1222.0,874.0 L1229.0,874.0 L1224.0,880.0Z" fill="#4D4D4D"/>
<path d="M1057.0,262.0 L1074.0,254.5 L1077.0,259.0 L1060.0,267.5Z" fill="#CD0000"/>
<path d="M1161.0,300.0 L1167.0,300.0 L1167.0,306.0 L1161.0,306.0Z" fill="#CD0000"/>
<path d="M1171.6,311.4 L1180.0,311.4 L1180.0,317.8 L1171.6,317.8Z" fill="#CD0000"/>
<g fill="none" stroke="#000" stroke-width="3.9" stroke-linejoin="round" stroke-linecap="round">
<path d="M352.1,235.4 L933.8,235.4 L933.8,225.4 L940.7,227.0 L943.7,238.6 L945.8,242.8 L962.4,247.3 L970.4,244.4 L984.5,246.2 L992.5,253.4 L998.6,252.3 L1010.8,258.4 L1024.7,254.4 L1032.9,258.4 L1053.2,262.1 L1040.9,266.0 L1024.7,273.1 L1012.7,280.2 L1000.5,288.2 L996.9,294.8 L1002.2,296.1 L1016.9,291.6 L1026.4,289.5 L1023.7,298.7 L1033.4,299.5 L1044.3,294.0 L1057.0,291.6 L1066.4,285.5 L1075.9,278.9 L1087.5,275.8 L1084.3,281.6 L1078.0,288.2 L1074.9,294.0 L1080.1,290.0 L1090.7,292.1 L1097.0,300.0 L1105.4,300.8 L1112.8,303.5 L1126.9,296.9 L1139.1,295.5 L1148.6,294.2 L1147.5,301.3 L1161.2,301.3 L1166.5,307.9 L1170.7,315.3 L1180.2,314.5 L1161.2,315.8 L1153.4,318.5 L1147.5,313.2 L1138.0,312.4 L1121.2,315.8 L1112.0,318.9 L1104.6,326.3 L1095.0,340.2 L1085.4,349.8 L1090.7,348.7 L1100.3,338.0 L1108.8,326.3 L1104.6,340.2 L1098.2,350.8 L1091.7,364.6 L1090.7,373.9 L1087.1,383.1 L1086.9,392.8 L1089.0,400.8 L1088.1,410.5 L1092.3,423.2 L1094.4,427.9 L1098.4,430.0 L1104.3,428.7 L1107.5,427.4 L1115.9,417.4 L1120.6,409.5 L1122.2,399.4 L1119.5,387.6 L1115.3,376.5 L1117.0,368.6 L1115.9,366.0 L1119.5,360.7 L1121.2,350.7 L1125.0,343.5 L1135.9,335.6 L1134.5,346.2 L1139.5,333.8 L1148.6,331.1 L1145.4,325.1 L1153.2,320.3 L1158.7,323.8 L1172.4,329.8 L1180.2,331.7 L1180.6,339.1 L1183.3,344.9 L1182.7,356.2 L1180.2,360.2 L1171.7,368.1 L1170.7,377.0 L1180.2,373.9 L1183.3,368.6 L1189.6,366.0 L1197.0,371.2 L1199.1,381.8 L1201.6,393.6 L1200.2,404.2 L1192.4,407.6 L1188.6,411.6 L1186.9,417.4 L1182.3,422.6 L1179.7,427.9 L1185.4,429.8 L1196.0,432.4 L1196.0,434.5 L1206.9,434.0 L1217.0,433.2 L1226.5,426.6 L1236.0,422.6 L1241.9,420.8 L1250.7,416.6 L1257.9,412.9 L1266.5,407.4 L1273.9,401.6 L1276.4,396.8 L1272.8,387.0 L1280.2,384.4 L1294.9,383.9 L1303.4,387.0 L1316.0,386.5 L1326.5,381.2 L1332.8,379.7 L1332.8,371.2 L1330.1,363.8 L1339.2,358.0 L1347.6,348.8 L1360.2,341.4 L1365.5,340.9 L1392.9,340.6 L1431.8,340.6 L1433.9,334.3 L1440.7,333.0 L1445.5,334.3 L1446.6,330.4 L1455.0,321.1 L1458.1,310.6 L1463.4,296.1 L1479.6,276.0 L1483.4,280.2 L1486.6,283.4 L1499.2,278.7 L1509.7,286.3 L1510.0,317.2 L1517.1,325.1 L1518.2,336.9 L1526.6,343.5 L1527.2,345.6 L1514.0,354.1 L1501.3,359.4 L1495.0,358.0 L1488.7,354.1 L1482.4,367.3 L1467.6,373.9 L1458.1,376.5 L1450.8,391.0 L1446.6,397.1 L1450.8,402.9 L1442.4,410.8 L1449.7,421.3 L1452.9,426.1 L1463.4,425.8 L1459.2,418.2 L1464.5,422.6 L1464.5,428.7 L1452.9,431.9 L1449.7,432.7 L1448.7,427.1 L1440.2,433.2 L1433.9,434.5 L1424.5,437.9 L1402.3,439.8 L1386.5,446.4 L1384.4,449.8 L1416.0,442.4 L1424.0,444.5 L1404.4,453.8 L1381.3,457.7 L1379.2,460.9 L1377.1,479.3 L1370.7,489.9 L1359.2,501.0 L1347.6,487.3 L1346.5,483.3 L1349.7,491.2 L1356.0,504.4 L1357.1,513.6 L1352.8,525.5 L1345.5,537.4 L1338.1,548.7 L1341.3,528.1 L1332.8,514.9 L1330.7,499.1 L1337.1,487.3 L1326.5,492.5 L1327.6,500.4 L1328.6,517.6 L1330.3,524.2 L1318.1,517.6 L1330.7,528.1 L1330.7,536.0 L1330.7,551.9 L1337.7,554.5 L1339.8,563.7 L1343.4,573.0 L1347.6,586.1 L1347.0,598.0 L1337.1,602.8 L1325.9,615.1 L1313.9,613.8 L1297.0,633.6 L1283.3,634.9 L1276.0,638.9 L1269.7,652.1 L1254.9,665.3 L1243.3,675.8 L1234.9,682.4 L1228.6,691.6 L1223.3,707.4 L1222.3,717.5 L1223.3,728.5 L1225.4,739.1 L1231.8,757.5 L1241.2,777.3 L1244.4,797.1 L1251.8,818.2 L1250.3,847.2 L1244.4,863.0 L1229.6,864.9 L1216.4,843.8 L1214.9,838.0 L1210.7,830.1 L1205.4,822.2 L1199.1,807.6 L1196.0,799.7 L1201.2,793.1 L1193.2,790.5 L1197.0,765.5 L1188.6,759.4 L1181.2,745.7 L1168.6,733.8 L1160.1,737.8 L1147.5,744.9 L1140.1,745.2 L1132.8,732.5 L1115.9,726.4 L1101.2,728.0 L1094.4,729.1 L1089.6,730.4 L1086.4,719.3 L1083.3,720.6 L1082.2,727.7 L1075.9,727.2 L1065.4,726.2 L1054.8,728.5 L1051.7,731.7 L1046.4,735.1 L1054.8,739.1 L1054.8,749.6 L1059.1,760.2 L1054.8,764.7 L1044.3,756.2 L1038.0,760.2 L1027.5,761.5 L1014.8,756.2 L1010.6,749.6 L1000.1,748.3 L987.5,747.5 L972.7,742.5 L961.1,744.4 L943.2,753.6 L930.6,765.5 L915.9,774.7 L899.0,786.6 L890.6,797.1 L887.4,815.6 L891.6,841.9 L891.6,843.0 L884.3,845.4 L869.5,840.1 L850.6,830.9 L842.1,802.4 L825.3,781.3 L821.1,770.7 L812.7,753.6 L802.1,742.5 L783.2,739.9 L774.8,743.6 L765.3,763.3 L747.4,754.9 L738.9,748.3 L732.6,735.1 L726.3,719.3 L705.3,699.5 L694.7,690.0 L658.7,689.5 L658.7,701.4 L598.5,701.4 L519.7,670.8 L521.6,664.7 L470.9,669.7 L468.3,665.3 L467.3,657.3 L454.6,641.5 L444.1,637.6 L442.0,631.0 L427.3,627.0 L418.8,620.4 L400.5,619.1 L396.7,607.2 L396.7,600.6 L392.1,594.1 L383.0,586.9 L370.4,570.3 L370.4,562.4 L372.5,557.1 L367.2,553.2 L359.9,546.6 L357.8,532.1 L347.2,525.5 L338.8,509.7 L332.5,500.4 L330.4,480.7 L317.7,461.1 L323.0,451.7 L324.1,433.2 L322.0,426.6 L317.7,406.8 L314.4,397.9 L319.9,383.1 L324.1,367.3 L325.1,346.2 L327.2,327.7 L326.2,307.9 L325.1,297.4 L324.1,289.5 L317.7,275.0 L311.4,261.8 L310.8,251.8 L326.2,256.0 L340.9,257.8 L350.0,257.0 L351.4,246.0Z"/>
<path d="M326.2,307.9 L336.7,307.9 L343.0,310.6 L349.3,311.9 L351.4,318.5 L352.5,323.8 L362.0,326.4 L370.4,323.0 L378.8,321.9 L385.1,324.6 L396.7,321.6 L406.2,321.6 L418.8,316.6 L431.5,314.5 L475.3,314.5"/>
<path d="M472.8,235.4 L472.8,303.5 L475.3,310.6 L474.6,315.3 L482.0,321.1 L484.8,325.1 L483.1,330.4 L479.9,334.3 L476.8,341.7 L475.1,346.2 L468.7,358.0 L472.5,360.7 L475.1,364.6 L473.0,371.2 L473.0,420.0"/>
<path d="M493.6,235.4 L493.6,261.8 L503.9,278.7 L520.1,290.8 L529.2,296.9 L529.2,309.0 L525.2,319.0 L528.1,327.2 L538.2,323.0 L544.4,335.1 L552.4,347.2 L560.4,356.2 L572.6,353.8 L589.4,352.8 L592.0,348.0 L598.9,354.9"/>
<path d="M322.0,420.0 L598.9,420.0"/>
<path d="M598.9,340.9 L746.3,340.9 L746.3,446.4 L598.9,446.4 L598.9,340.9"/>
<path d="M598.9,446.4 L641.0,446.4"/>
<path d="M746.3,235.4 L746.3,340.9"/>
<path d="M746.3,316.1 L904.1,316.1"/>
<path d="M889.9,235.4 L891.6,248.6 L892.7,261.8 L898.0,275.0 L899.0,290.8 L903.2,305.3 L904.1,316.1 L898.0,325.1 L906.4,333.0 L906.4,380.5"/>
<path d="M746.3,393.6 L863.2,393.6 L867.4,396.8 L875.8,398.9 L886.4,397.3 L896.9,400.8 L905.3,406.8"/>
<path d="M906.4,380.5 L903.2,385.7 L904.3,396.3 L905.3,406.8"/>
<path d="M906.4,380.5 L1016.5,380.5"/>
<path d="M905.3,406.8 L908.5,414.7 L913.7,427.9 L918.0,438.5 L919.0,449.0 L922.2,458.2 L930.6,472.8 L939.7,479.3 L934.8,484.6 L939.0,491.2 L945.3,496.0 L944.9,565.0"/>
<path d="M920.7,457.5 L1005.8,456.7 L1012.3,462.7"/>
<path d="M788.4,472.8 L930.6,472.8"/>
<path d="M641.0,446.4 L788.4,446.4 L788.4,551.9 L641.0,551.9 L641.0,446.4"/>
<path d="M746.3,446.4 L788.4,446.4"/>
<path d="M768.4,551.9 L944.9,551.9"/>
<path d="M768.4,551.9 L768.4,565.0 L831.6,565.0 L831.6,616.2 L837.9,620.9 L848.5,623.1 L861.1,627.0 L871.6,627.5 L874.8,634.1 L890.6,637.6 L896.9,632.3 L903.2,635.5 L915.9,634.9 L926.4,634.1 L936.9,640.2 L947.9,640.5 L957.1,642.8 L957.1,683.7 L962.2,694.3 L967.4,704.8 L964.3,720.6 L963.2,728.5 L961.1,744.4"/>
<path d="M947.9,640.5 L948.9,594.1 L944.9,565.0"/>
<path d="M767.6,551.9 L767.6,683.7 L692.2,683.7 L694.1,689.5"/>
<path d="M641.0,551.9 L641.0,701.4"/>
<path d="M535.7,551.9 L641.0,551.9"/>
<path d="M535.7,420.0 L535.7,573.0 L528.3,574.3 L521.2,577.7 L523.1,591.4 L523.5,604.6 L524.8,609.9 L529.4,619.1 L533.8,623.6 L528.3,632.3 L525.2,641.5 L522.0,646.8 L526.2,657.3 L521.6,664.7"/>
<path d="M410.4,420.0 L410.4,499.1 L523.5,604.6"/>
<path d="M994.0,297.1 L994.0,312.4 L984.3,318.5 L981.6,326.4 L986.4,330.4 L984.3,339.6 L983.2,347.5 L993.8,354.1 L1002.2,359.4 L1012.7,368.6 L1015.9,372.5 L1016.5,380.5 L1016.9,391.0 L1020.1,400.2 L1028.5,406.8 L1039.1,417.4 L1038.0,425.3 L1033.8,431.9 L1020.1,435.8 L1019.0,450.3 L1012.7,462.2 L1010.6,471.4 L1012.7,479.3 L1026.4,492.5 L1028.5,501.8 L1038.0,503.1 L1038.4,508.9 L1034.8,518.9 L1043.3,526.8 L1052.7,537.4 L1052.7,543.9 L1060.1,551.9 L1059.1,562.4 L1052.1,562.9 L1054.8,565.0 L1050.6,570.3 L1048.5,578.2 L1040.1,594.1 L1040.1,601.2 L1035.9,604.6 L1030.6,615.1 L1023.3,628.3 L1019.0,642.8 L1016.9,657.3 L1020.1,670.5 L1023.3,675.3 L1014.8,690.3 L1012.7,695.6 L1008.5,710.1 L1047.9,710.1 L1051.7,731.7"/>
<path d="M1033.4,299.5 L1061.2,311.1 L1082.2,316.4 L1088.5,323.8 L1087.5,331.7 L1095.0,340.2"/>
<path d="M1028.5,406.8 L1088.5,406.8"/>
<path d="M1094.2,427.4 L1094.2,489.9 L1092.8,496.5 L1094.2,507.6 L1089.6,513.6 L1085.4,520.2 L1083.3,530.8"/>
<path d="M1083.3,530.8 L1081.6,533.4 L1080.8,539.5 L1074.2,542.1 L1071.7,549.8 L1069.0,547.9 L1060.1,551.9"/>
<path d="M1083.3,530.8 L1093.4,526.3 L1103.3,531.3 L1112.8,528.1 L1120.1,521.5 L1125.4,525.5 L1131.7,518.4 L1139.1,506.2 L1149.6,504.9 L1151.3,496.5 L1158.0,496.5 L1164.4,504.4 L1173.4,508.3 L1189.6,506.2 L1198.1,514.4 L1206.5,509.7 L1208.0,503.1 L1215.5,500.4 L1220.2,492.0 L1222.3,488.6 L1234.9,482.0 L1237.6,470.9 L1239.8,462.2 L1241.9,455.9"/>
<path d="M1151.3,496.5 L1151.3,427.9"/>
<path d="M1101.2,426.3 L1151.3,426.3 L1179.7,427.1"/>
<path d="M1241.9,420.5 L1241.9,480.1 L1341.5,480.1"/>
<path d="M1263.8,480.1 L1263.8,493.8 L1271.8,486.7 L1278.9,482.0 L1286.5,482.8 L1291.1,480.7 L1298.1,483.3 L1300.8,490.7"/>
<path d="M1300.8,490.7 L1298.5,495.7 L1287.6,487.3 L1283.3,497.8 L1276.6,505.2 L1267.6,514.4 L1260.2,509.7 L1257.0,518.4 L1252.8,524.2 L1246.5,537.4 L1241.2,539.5 L1233.9,543.4 L1226.9,545.3 L1217.4,546.6 L1211.3,537.6"/>
<path d="M1198.1,514.4 L1198.1,521.5 L1202.3,529.4 L1204.4,533.9 L1211.3,537.6"/>
<path d="M1211.3,537.6 L1204.4,543.9 L1195.5,550.5 L1187.5,555.8 L1175.3,562.4"/>
<path d="M1054.4,565.0 L1082.9,565.0 L1082.9,560.3 L1175.3,562.4 L1217.4,562.7"/>
<path d="M1217.4,562.7 L1339.8,563.7"/>
<path d="M1217.4,562.7 L1210.7,575.1 L1198.1,577.4 L1191.7,580.1 L1184.4,586.1 L1174.9,589.6 L1167.5,594.1 L1162.3,599.3 L1161.8,604.9"/>
<path d="M1035.9,604.6 L1187.3,604.6"/>
<path d="M1187.3,604.6 L1194.9,602.5 L1203.3,599.3 L1230.7,600.6 L1231.1,603.3 L1233.2,602.0 L1236.4,609.3 L1259.8,609.9 L1283.3,634.9"/>
<path d="M1187.3,604.6 L1182.3,612.5 L1191.7,619.1 L1198.1,631.0 L1206.5,641.5 L1211.7,644.9 L1221.2,657.3 L1223.3,667.9 L1228.6,678.4 L1231.8,682.4 L1234.5,682.9"/>
<path d="M1094.4,729.1 L1097.0,719.3 L1092.8,710.1 L1147.5,710.1 L1150.5,718.0 L1206.5,721.4 L1209.6,726.7 L1210.7,716.7 L1222.3,717.5"/>
<path d="M1134.9,605.1 L1143.7,660.8 L1147.5,675.8 L1146.5,694.3 L1147.5,710.1"/>
<path d="M1080.1,604.6 L1074.4,686.3 L1075.9,726.7"/>
<path d="M957.1,656.8 L1016.9,657.3"/>
<path d="M944.9,565.0 L1039.1,565.0 L1034.4,578.2 L1048.5,578.2"/>
<path d="M1257.9,412.9 L1257.9,420.0 L1350.7,420.0 L1356.0,425.3 L1364.4,436.9 L1355.4,446.9 L1353.9,454.3 L1363.4,467.5 L1356.0,475.4 L1349.3,478.0 L1345.5,477.0 L1341.5,480.1 L1341.5,513.6 L1357.1,513.6"/>
<path d="M1364.4,436.9 L1381.3,446.4"/>
<path d="M1349.3,478.0 L1346.5,483.3"/>
<path d="M1300.8,490.7 L1305.5,496.5 L1314.9,501.8 L1314.9,507.0 L1309.7,514.9 L1316.0,517.6 L1330.7,528.1"/>
<path d="M1338.1,526.8 L1352.8,524.7"/>
<path d="M1392.9,340.6 L1391.8,354.1 L1391.8,377.8 L1395.0,379.1 L1394.5,400.2 L1389.7,418.7 L1389.7,438.5 L1384.9,443.7 L1386.5,446.4"/>
<path d="M1431.8,340.6 L1429.7,354.1 L1420.2,364.6 L1414.6,376.5 L1412.9,385.7 L1411.8,393.6 L1409.7,397.6 L1411.6,400.8"/>
<path d="M1394.5,400.2 L1436.0,401.6 L1438.1,398.9 L1444.5,396.8 L1446.1,397.1"/>
<path d="M1440.7,333.0 L1442.4,354.1 L1443.0,379.1 L1446.6,388.4 L1448.7,391.8"/>
<path d="M1389.7,419.0 L1425.5,419.5 L1434.4,419.5 L1434.4,422.6 L1435.4,425.8 L1438.1,428.4 L1439.6,433.2"/>
<path d="M1425.5,419.5 L1425.5,435.3 L1424.5,437.9"/>
<path d="M352.8,237.5 L358.2,242.9 L346.1,245.6 L355.5,250.9 L358.2,259.0 L362.2,261.7 L351.5,265.7 L359.6,271.1 L346.1,276.5 L348.8,283.2 L358.2,280.5 L360.9,273.8" stroke-width="9.0"/>
</g>
<text x="1571" y="402.5" font-size="25.8" font-weight="bold">Relative pop. size</text>
<g class="lg">
<rect x="1571" y="416.70" width="24.8" height="25.83" fill="#4D4D4D"/>
<text x="1607.5" y="437.1">excl.-severe</text>
<rect x="1571" y="442.23" width="24.8" height="25.83" fill="#B3B3B3"/>
<text x="1607.5" y="462.6">excl.-moderate</text>
<rect x="1571" y="467.76" width="24.8" height="25.83" fill="#1874CD"/>
<text x="1607.5" y="488.1">0-10</text>
<rect x="1571" y="493.29" width="24.8" height="25.83" fill="#4A91A0"/>
<text x="1607.5" y="513.7">10-20</text>
<rect x="1571" y="518.82" width="24.8" height="25.83" fill="#7BAD73"/>
<text x="1607.5" y="539.2">20-30</text>
<rect x="1571" y="544.35" width="24.8" height="25.83" fill="#ADCE47"/>
<text x="1607.5" y="564.7">30-40</text>
<rect x="1571" y="569.88" width="24.8" height="25.83" fill="#E1EA1C"/>
<text x="1607.5" y="590.2">40-50</text>
<rect x="1571" y="595.41" width="24.8" height="25.83" fill="#F9E000"/>
<text x="1607.5" y="615.8">50-60</text>
<rect x="1571" y="620.94" width="24.8" height="25.83" fill="#EDA500"/>
<text x="1607.5" y="641.3">60-70</text>
<rect x="1571" y="646.47" width="24.8" height="25.83" fill="#E36E00"/>
<text x="1607.5" y="666.8">70-80</text>
<rect x="1571" y="672.00" width="24.8" height="25.83" fill="#D83700"/>
<text x="1607.5" y="692.4">80-90</text>
<rect x="1571" y="697.53" width="24.8" height="25.83" fill="#CD0000"/>
<text x="1607.5" y="717.9">90-100</text>
</g>
</svg></body></html>
